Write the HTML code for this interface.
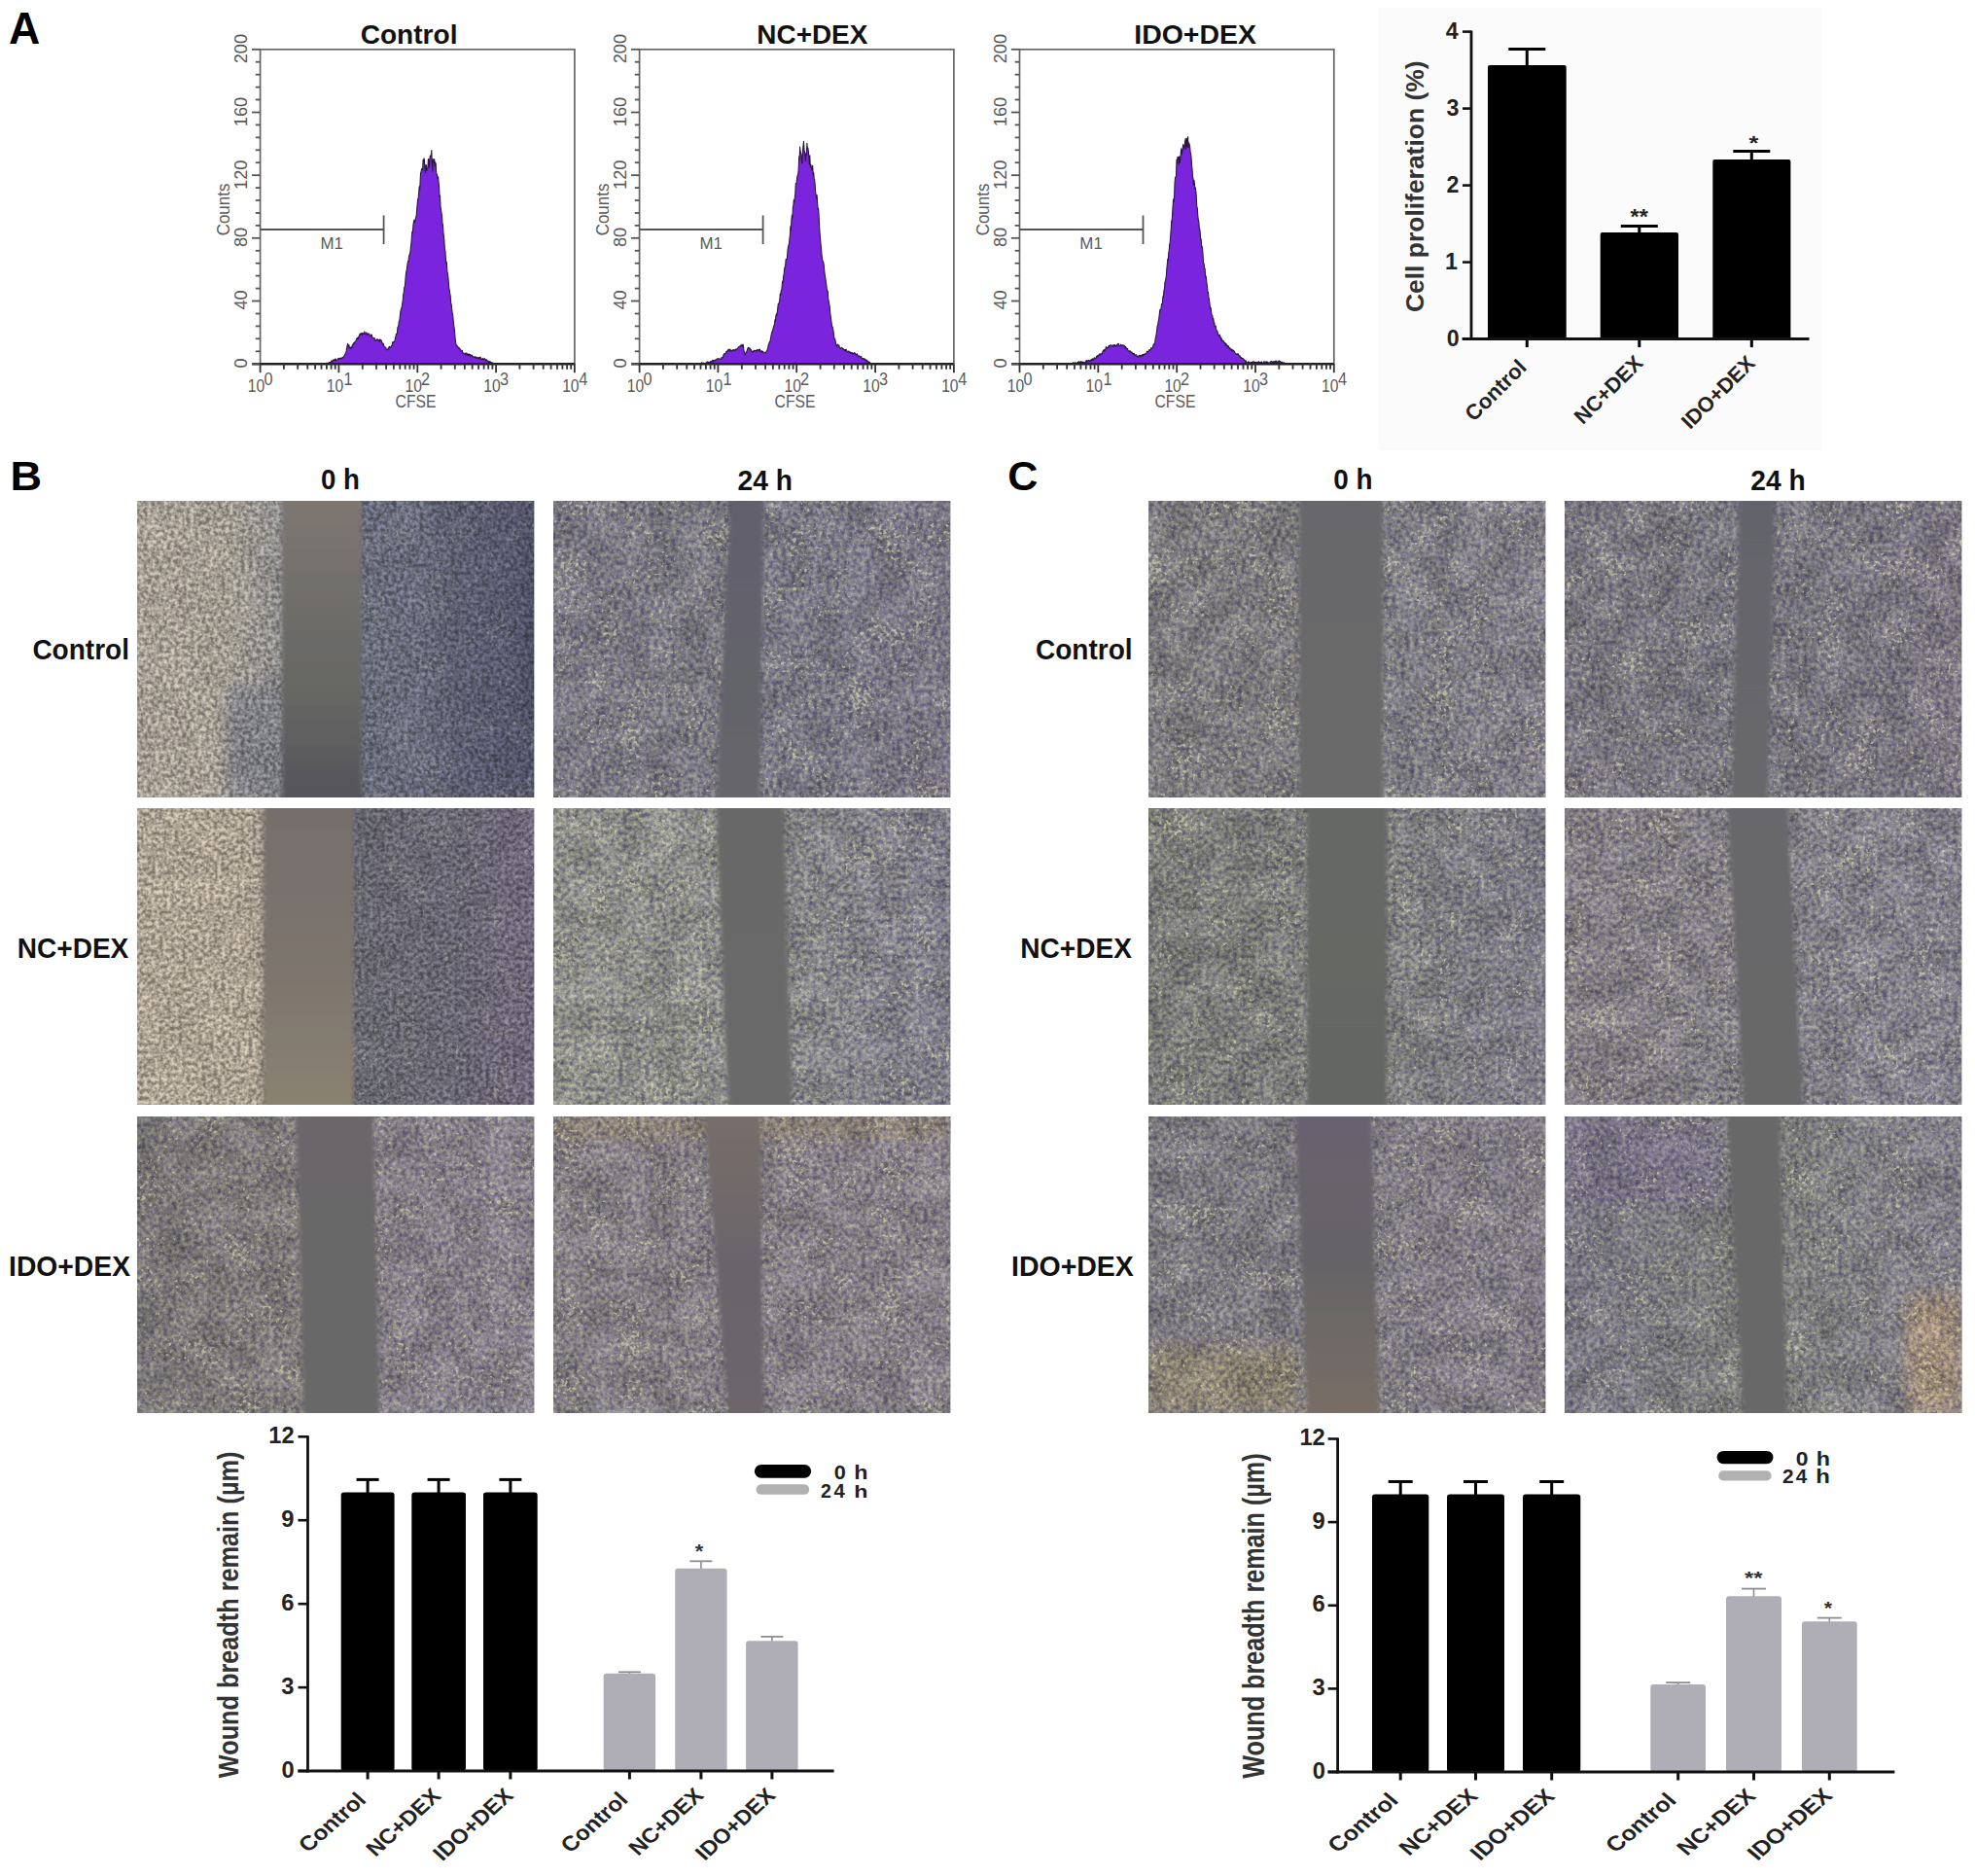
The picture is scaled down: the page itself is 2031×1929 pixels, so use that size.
<!DOCTYPE html><html><head><meta charset="utf-8"><title>Figure</title><style>html,body{margin:0;padding:0;background:#fff}#pg{position:relative;width:2031px;height:1929px;overflow:hidden;background:#fff}svg{position:absolute;left:0;top:0}</style></head><body><div id="pg">
<svg width="2031" height="1929" viewBox="0 0 2031 1929" xmlns="http://www.w3.org/2000/svg">
<defs>
<filter id="soft" x="-5%" y="0" width="110%" height="100%"><feGaussianBlur stdDeviation="2.0 0.3"/></filter>
<filter id="blur8" x="-20%" y="-20%" width="140%" height="140%"><feGaussianBlur stdDeviation="8"/></filter>
<filter id="tex0" x="0" y="0" width="100%" height="100%" color-interpolation-filters="sRGB"><feTurbulence type="fractalNoise" baseFrequency="0.22" numOctaves="3" seed="3" result="f"/><feTurbulence type="fractalNoise" baseFrequency="0.03" numOctaves="2" seed="10" result="c"/><feColorMatrix in="f" type="matrix" values="1.7 -0.25 0 0 -0.225  1.7 -0.25 0 0 -0.225  1.05 0.4 0 0 -0.225  0 0 0 0 1" result="f2"/><feColorMatrix in="c" type="matrix" values="2.4 0 0 0 -0.7  2.4 0 0 0 -0.7  2.4 0 0 0 -0.7  0 0 0 0 1" result="c2"/><feComposite in="f2" in2="c2" operator="arithmetic" k1="0" k2="0.78" k3="0.22" k4="0" result="m"/><feComposite in="SourceGraphic" in2="m" operator="arithmetic" k1="0.76" k2="0.62" k3="0" k4="0"/></filter>
<filter id="mono0" x="0" y="0" width="100%" height="100%" color-interpolation-filters="sRGB"><feTurbulence type="fractalNoise" baseFrequency="0.25" numOctaves="3" seed="3" result="f"/><feTurbulence type="fractalNoise" baseFrequency="0.03" numOctaves="2" seed="10" result="c"/><feColorMatrix in="f" type="matrix" values="2.2 0 0 0 -0.6  2.2 0 0 0 -0.6  2.2 0 0 0 -0.6  0 0 0 0 1" result="f2"/><feColorMatrix in="c" type="matrix" values="2.0 0 0 0 -0.5  2.0 0 0 0 -0.5  2.0 0 0 0 -0.5  0 0 0 0 1" result="c2"/><feComposite in="f2" in2="c2" operator="arithmetic" k1="0" k2="0.85" k3="0.15" k4="0" result="m"/><feComposite in="SourceGraphic" in2="m" operator="arithmetic" k1="0.6" k2="0.7" k3="0" k4="0"/></filter>
<filter id="sp0" x="0" y="0" width="100%" height="100%" color-interpolation-filters="sRGB"><feTurbulence type="fractalNoise" baseFrequency="0.26" numOctaves="2" seed="53" result="f"/><feTurbulence type="fractalNoise" baseFrequency="0.03" numOctaves="1" seed="12" result="c"/><feComposite in="f" in2="c" operator="arithmetic" k1="0" k2="0.65" k3="0.35" k4="0" result="m"/><feColorMatrix in="m" type="matrix" values="0 0 0 0 0.88  0 0 0 0 0.87  0 0 0 0 0.70  9 0 0 0 -5.4"/></filter>
<filter id="tex1" x="0" y="0" width="100%" height="100%" color-interpolation-filters="sRGB"><feTurbulence type="fractalNoise" baseFrequency="0.22" numOctaves="3" seed="11" result="f"/><feTurbulence type="fractalNoise" baseFrequency="0.03" numOctaves="2" seed="18" result="c"/><feColorMatrix in="f" type="matrix" values="1.7 -0.25 0 0 -0.225  1.7 -0.25 0 0 -0.225  1.05 0.4 0 0 -0.225  0 0 0 0 1" result="f2"/><feColorMatrix in="c" type="matrix" values="2.4 0 0 0 -0.7  2.4 0 0 0 -0.7  2.4 0 0 0 -0.7  0 0 0 0 1" result="c2"/><feComposite in="f2" in2="c2" operator="arithmetic" k1="0" k2="0.78" k3="0.22" k4="0" result="m"/><feComposite in="SourceGraphic" in2="m" operator="arithmetic" k1="0.76" k2="0.62" k3="0" k4="0"/></filter>
<filter id="mono1" x="0" y="0" width="100%" height="100%" color-interpolation-filters="sRGB"><feTurbulence type="fractalNoise" baseFrequency="0.25" numOctaves="3" seed="11" result="f"/><feTurbulence type="fractalNoise" baseFrequency="0.03" numOctaves="2" seed="18" result="c"/><feColorMatrix in="f" type="matrix" values="2.2 0 0 0 -0.6  2.2 0 0 0 -0.6  2.2 0 0 0 -0.6  0 0 0 0 1" result="f2"/><feColorMatrix in="c" type="matrix" values="2.0 0 0 0 -0.5  2.0 0 0 0 -0.5  2.0 0 0 0 -0.5  0 0 0 0 1" result="c2"/><feComposite in="f2" in2="c2" operator="arithmetic" k1="0" k2="0.85" k3="0.15" k4="0" result="m"/><feComposite in="SourceGraphic" in2="m" operator="arithmetic" k1="0.6" k2="0.7" k3="0" k4="0"/></filter>
<filter id="sp1" x="0" y="0" width="100%" height="100%" color-interpolation-filters="sRGB"><feTurbulence type="fractalNoise" baseFrequency="0.26" numOctaves="2" seed="61" result="f"/><feTurbulence type="fractalNoise" baseFrequency="0.03" numOctaves="1" seed="20" result="c"/><feComposite in="f" in2="c" operator="arithmetic" k1="0" k2="0.65" k3="0.35" k4="0" result="m"/><feColorMatrix in="m" type="matrix" values="0 0 0 0 0.88  0 0 0 0 0.87  0 0 0 0 0.70  9 0 0 0 -5.4"/></filter>
<filter id="tex2" x="0" y="0" width="100%" height="100%" color-interpolation-filters="sRGB"><feTurbulence type="fractalNoise" baseFrequency="0.22" numOctaves="3" seed="29" result="f"/><feTurbulence type="fractalNoise" baseFrequency="0.03" numOctaves="2" seed="36" result="c"/><feColorMatrix in="f" type="matrix" values="1.7 -0.25 0 0 -0.225  1.7 -0.25 0 0 -0.225  1.05 0.4 0 0 -0.225  0 0 0 0 1" result="f2"/><feColorMatrix in="c" type="matrix" values="2.4 0 0 0 -0.7  2.4 0 0 0 -0.7  2.4 0 0 0 -0.7  0 0 0 0 1" result="c2"/><feComposite in="f2" in2="c2" operator="arithmetic" k1="0" k2="0.78" k3="0.22" k4="0" result="m"/><feComposite in="SourceGraphic" in2="m" operator="arithmetic" k1="0.76" k2="0.62" k3="0" k4="0"/></filter>
<filter id="mono2" x="0" y="0" width="100%" height="100%" color-interpolation-filters="sRGB"><feTurbulence type="fractalNoise" baseFrequency="0.25" numOctaves="3" seed="29" result="f"/><feTurbulence type="fractalNoise" baseFrequency="0.03" numOctaves="2" seed="36" result="c"/><feColorMatrix in="f" type="matrix" values="2.2 0 0 0 -0.6  2.2 0 0 0 -0.6  2.2 0 0 0 -0.6  0 0 0 0 1" result="f2"/><feColorMatrix in="c" type="matrix" values="2.0 0 0 0 -0.5  2.0 0 0 0 -0.5  2.0 0 0 0 -0.5  0 0 0 0 1" result="c2"/><feComposite in="f2" in2="c2" operator="arithmetic" k1="0" k2="0.85" k3="0.15" k4="0" result="m"/><feComposite in="SourceGraphic" in2="m" operator="arithmetic" k1="0.6" k2="0.7" k3="0" k4="0"/></filter>
<filter id="sp2" x="0" y="0" width="100%" height="100%" color-interpolation-filters="sRGB"><feTurbulence type="fractalNoise" baseFrequency="0.26" numOctaves="2" seed="79" result="f"/><feTurbulence type="fractalNoise" baseFrequency="0.03" numOctaves="1" seed="38" result="c"/><feComposite in="f" in2="c" operator="arithmetic" k1="0" k2="0.65" k3="0.35" k4="0" result="m"/><feColorMatrix in="m" type="matrix" values="0 0 0 0 0.88  0 0 0 0 0.87  0 0 0 0 0.70  9 0 0 0 -5.4"/></filter>
<linearGradient id="g00" x1="0" y1="0" x2="1" y2="0"><stop offset="0" stop-color="#a79f95"/><stop offset="0.22" stop-color="#a39c92"/><stop offset="0.3" stop-color="#98948f"/><stop offset="0.36" stop-color="#898889"/><stop offset="0.56" stop-color="#686b79"/><stop offset="0.72" stop-color="#686b7b"/><stop offset="0.8" stop-color="#5c5e70"/><stop offset="0.94" stop-color="#58586e"/><stop offset="1" stop-color="#4e4e64"/></linearGradient>
<linearGradient id="v00" x1="0" y1="0" x2="0" y2="1"><stop offset="0.000" stop-color="#7e7771"/><stop offset="0.333" stop-color="#706e6a"/><stop offset="0.667" stop-color="#666664"/><stop offset="1.000" stop-color="#54545a"/></linearGradient>
<clipPath id="c00"><rect x="141" y="515" width="408.5" height="305"/></clipPath>
<linearGradient id="g10" x1="0" y1="0" x2="1" y2="0"><stop offset="0" stop-color="#7b7883"/><stop offset="0.4" stop-color="#79777f"/><stop offset="0.6" stop-color="#787782"/><stop offset="1" stop-color="#7a7583"/></linearGradient>
<linearGradient id="v10" x1="0" y1="0" x2="0" y2="1"><stop offset="0.000" stop-color="#62606e"/><stop offset="1.000" stop-color="#66666a"/></linearGradient>
<clipPath id="c10"><rect x="569" y="515" width="408.5" height="305"/></clipPath>
<linearGradient id="g20" x1="0" y1="0" x2="1" y2="0"><stop offset="0" stop-color="#7c7a7d"/><stop offset="0.38" stop-color="#7b797c"/><stop offset="0.6" stop-color="#7d7c82"/><stop offset="1" stop-color="#7f7b85"/></linearGradient>
<linearGradient id="v20" x1="0" y1="0" x2="0" y2="1"><stop offset="0.000" stop-color="#68686c"/><stop offset="1.000" stop-color="#6a6a6a"/></linearGradient>
<clipPath id="c20"><rect x="1181" y="515" width="408.5" height="305"/></clipPath>
<linearGradient id="g30" x1="0" y1="0" x2="1" y2="0"><stop offset="0" stop-color="#79757e"/><stop offset="0.5" stop-color="#77757d"/><stop offset="1" stop-color="#7b7681"/></linearGradient>
<linearGradient id="v30" x1="0" y1="0" x2="0" y2="1"><stop offset="0.000" stop-color="#64646c"/><stop offset="1.000" stop-color="#68686a"/></linearGradient>
<clipPath id="c30"><rect x="1609" y="515" width="408.5" height="305"/></clipPath>
<linearGradient id="g01" x1="0" y1="0" x2="1" y2="0"><stop offset="0" stop-color="#aca293"/><stop offset="0.3" stop-color="#aaa091"/><stop offset="0.33" stop-color="#837b72"/><stop offset="0.55" stop-color="#67656e"/><stop offset="0.56" stop-color="#676770"/><stop offset="0.8" stop-color="#696773"/><stop offset="1" stop-color="#6f6679"/></linearGradient>
<linearGradient id="v01" x1="0" y1="0" x2="0" y2="1"><stop offset="0.000" stop-color="#766e6c"/><stop offset="0.500" stop-color="#7c746e"/><stop offset="1.000" stop-color="#8a8270"/></linearGradient>
<clipPath id="c01"><rect x="141" y="831" width="408.5" height="305"/></clipPath>
<linearGradient id="g11" x1="0" y1="0" x2="1" y2="0"><stop offset="0" stop-color="#8c8c88"/><stop offset="0.4" stop-color="#8a8a88"/><stop offset="0.6" stop-color="#858587"/><stop offset="0.85" stop-color="#828088"/><stop offset="1" stop-color="#7c7a86"/></linearGradient>
<linearGradient id="v11" x1="0" y1="0" x2="0" y2="1"><stop offset="0.000" stop-color="#686868"/><stop offset="1.000" stop-color="#6a6a6a"/></linearGradient>
<clipPath id="c11"><rect x="569" y="831" width="408.5" height="305"/></clipPath>
<linearGradient id="g21" x1="0" y1="0" x2="1" y2="0"><stop offset="0" stop-color="#7a7a78"/><stop offset="0.4" stop-color="#7c7c7b"/><stop offset="0.6" stop-color="#7d7d7e"/><stop offset="1" stop-color="#7d7a85"/></linearGradient>
<linearGradient id="v21" x1="0" y1="0" x2="0" y2="1"><stop offset="0.000" stop-color="#666866"/><stop offset="1.000" stop-color="#646663"/></linearGradient>
<clipPath id="c21"><rect x="1181" y="831" width="408.5" height="305"/></clipPath>
<linearGradient id="g31" x1="0" y1="0" x2="1" y2="0"><stop offset="0" stop-color="#827d83"/><stop offset="0.5" stop-color="#817e84"/><stop offset="1" stop-color="#83808b"/></linearGradient>
<linearGradient id="v31" x1="0" y1="0" x2="0" y2="1"><stop offset="0.000" stop-color="#68686c"/><stop offset="1.000" stop-color="#686868"/></linearGradient>
<clipPath id="c31"><rect x="1609" y="831" width="408.5" height="305"/></clipPath>
<linearGradient id="g02" x1="0" y1="0" x2="1" y2="0"><stop offset="0" stop-color="#777475"/><stop offset="0.2" stop-color="#7d7979"/><stop offset="0.4" stop-color="#7f7b7b"/><stop offset="0.6" stop-color="#827d84"/><stop offset="1" stop-color="#847f88"/></linearGradient>
<linearGradient id="v02" x1="0" y1="0" x2="0" y2="1"><stop offset="0.000" stop-color="#6a666a"/><stop offset="1.000" stop-color="#686868"/></linearGradient>
<clipPath id="c02"><rect x="141" y="1148" width="408.5" height="305"/></clipPath>
<linearGradient id="g12" x1="0" y1="0" x2="1" y2="0"><stop offset="0" stop-color="#817d81"/><stop offset="0.5" stop-color="#827d83"/><stop offset="1" stop-color="#847f86"/></linearGradient>
<linearGradient id="v12" x1="0" y1="0" x2="0" y2="1"><stop offset="0.000" stop-color="#786e6a"/><stop offset="0.500" stop-color="#6a646a"/><stop offset="1.000" stop-color="#6c666a"/></linearGradient>
<clipPath id="c12"><rect x="569" y="1148" width="408.5" height="305"/></clipPath>
<linearGradient id="g22" x1="0" y1="0" x2="1" y2="0"><stop offset="0" stop-color="#7c797f"/><stop offset="0.37" stop-color="#7c797f"/><stop offset="0.56" stop-color="#7f7b82"/><stop offset="1" stop-color="#817c85"/></linearGradient>
<linearGradient id="v22" x1="0" y1="0" x2="0" y2="1"><stop offset="0.000" stop-color="#686270"/><stop offset="0.500" stop-color="#666466"/><stop offset="1.000" stop-color="#786e66"/></linearGradient>
<clipPath id="c22"><rect x="1181" y="1148" width="408.5" height="305"/></clipPath>
<linearGradient id="g32" x1="0" y1="0" x2="1" y2="0"><stop offset="0" stop-color="#7b7883"/><stop offset="0.4" stop-color="#7b7b7b"/><stop offset="0.6" stop-color="#7d7d7e"/><stop offset="1" stop-color="#817d87"/></linearGradient>
<linearGradient id="v32" x1="0" y1="0" x2="0" y2="1"><stop offset="0.000" stop-color="#686868"/><stop offset="1.000" stop-color="#686868"/></linearGradient>
<clipPath id="c32"><rect x="1609" y="1148" width="408.5" height="305"/></clipPath>
</defs>
<rect width="2031" height="1929" fill="#fff"/>
<text transform="translate(8.96,45.16) scale(0.9618,1)" font-family="Liberation Sans, Arial, sans-serif" font-weight="bold" font-size="46.47" fill="#000">A</text>
<text transform="translate(10.44,503.90) scale(1.0438,1)" font-family="Liberation Sans, Arial, sans-serif" font-weight="bold" font-size="43.19" fill="#000">B</text>
<text transform="translate(1036.28,503.58) scale(1.0298,1)" font-family="Liberation Sans, Arial, sans-serif" font-weight="bold" font-size="41.83" fill="#000">C</text>
<text transform="translate(370.68,45.03) scale(1.0287,1)" font-family="Liberation Sans, Arial, sans-serif" font-weight="bold" font-size="27.30" fill="#111">Control</text>
<text transform="translate(778.35,45.02) scale(1.0014,1)" font-family="Liberation Sans, Arial, sans-serif" font-weight="bold" font-size="27.89" fill="#111">NC+DEX</text>
<text transform="translate(1166.21,45.02) scale(1.0117,1)" font-family="Liberation Sans, Arial, sans-serif" font-weight="bold" font-size="28.17" fill="#111">IDO+DEX</text>
<text transform="translate(329.99,503.31) scale(0.9574,1)" font-family="Liberation Sans, Arial, sans-serif" font-weight="bold" font-size="28.92" fill="#111">0 h</text>
<text transform="translate(758.55,503.60) scale(0.9626,1)" font-family="Liberation Sans, Arial, sans-serif" font-weight="bold" font-size="29.32" fill="#111">24 h</text>
<text transform="translate(1371.28,503.31) scale(0.9651,1)" font-family="Liberation Sans, Arial, sans-serif" font-weight="bold" font-size="28.92" fill="#111">0 h</text>
<text transform="translate(1800.35,503.60) scale(0.9537,1)" font-family="Liberation Sans, Arial, sans-serif" font-weight="bold" font-size="29.59" fill="#111">24 h</text>
<text transform="translate(33.38,678.31) scale(0.9782,1)" font-family="Liberation Sans, Arial, sans-serif" font-weight="bold" font-size="28.65" fill="#111">Control</text>
<text transform="translate(17.84,984.81) scale(0.9520,1)" font-family="Liberation Sans, Arial, sans-serif" font-weight="bold" font-size="29.44" fill="#111">NC+DEX</text>
<text transform="translate(9.02,1312.00) scale(0.9573,1)" font-family="Liberation Sans, Arial, sans-serif" font-weight="bold" font-size="29.58" fill="#111">IDO+DEX</text>
<text transform="translate(1064.98,678.31) scale(0.9782,1)" font-family="Liberation Sans, Arial, sans-serif" font-weight="bold" font-size="28.65" fill="#111">Control</text>
<text transform="translate(1049.33,984.80) scale(0.9358,1)" font-family="Liberation Sans, Arial, sans-serif" font-weight="bold" font-size="30.00" fill="#111">NC+DEX</text>
<text transform="translate(1040.01,1312.00) scale(0.9635,1)" font-family="Liberation Sans, Arial, sans-serif" font-weight="bold" font-size="29.58" fill="#111">IDO+DEX</text>
<path d="M332.3,374.2 L332.3,374.2 L332.7,374.1 L333.2,374.0 L333.7,373.9 L334.2,373.8 L334.7,374.1 L335.2,374.2 L335.7,373.2 L336.1,374.2 L336.6,373.2 L337.1,373.3 L337.6,373.8 L338.1,372.7 L338.6,373.4 L339.0,372.4 L339.5,373.0 L340.0,372.7 L340.5,371.9 L341.0,370.8 L341.5,372.1 L342.0,371.7 L342.4,370.7 L342.9,369.8 L343.4,370.4 L343.9,370.6 L344.4,369.1 L344.9,371.0 L345.4,369.1 L345.8,370.1 L346.3,370.3 L346.8,370.2 L347.3,369.6 L347.8,368.4 L348.3,369.6 L348.7,368.5 L349.2,368.3 L349.7,368.7 L350.2,368.1 L350.7,369.1 L351.2,368.9 L351.7,368.4 L352.1,367.2 L352.6,367.6 L353.1,367.7 L353.6,366.5 L354.1,365.9 L354.6,365.4 L355.1,363.3 L355.5,362.7 L356.0,361.8 L356.5,358.4 L357.0,356.0 L357.5,353.4 L358.0,354.4 L358.4,356.2 L358.9,354.8 L359.4,357.8 L359.9,357.5 L360.4,357.1 L360.9,358.5 L361.4,356.9 L361.8,357.6 L362.3,355.1 L362.8,354.1 L363.3,354.0 L363.8,352.5 L364.3,353.5 L364.8,351.6 L365.2,351.3 L365.7,350.7 L366.2,350.4 L366.7,348.5 L367.2,347.5 L367.7,348.3 L368.1,347.0 L368.6,348.3 L369.1,345.5 L369.6,345.0 L370.1,343.2 L370.6,343.0 L371.1,344.2 L371.5,343.6 L372.0,342.3 L372.5,344.3 L373.0,342.4 L373.5,343.2 L374.0,343.1 L374.5,343.2 L374.9,340.9 L375.4,343.5 L375.9,343.3 L376.4,343.1 L376.9,341.7 L377.4,344.7 L377.8,343.7 L378.3,343.7 L378.8,342.8 L379.3,343.3 L379.8,343.3 L380.3,345.5 L380.8,345.2 L381.2,345.6 L381.7,344.0 L382.2,344.0 L382.7,346.9 L383.2,347.0 L383.7,347.3 L384.1,347.8 L384.6,347.4 L385.1,347.6 L385.6,349.1 L386.1,350.4 L386.6,349.6 L387.1,350.2 L387.5,349.7 L388.0,348.5 L388.5,349.4 L389.0,350.0 L389.5,349.7 L390.0,349.5 L390.5,351.5 L390.9,348.8 L391.4,349.4 L391.9,349.7 L392.4,350.5 L392.9,352.3 L393.4,352.9 L393.8,354.3 L394.3,353.3 L394.8,355.5 L395.3,356.1 L395.8,356.4 L396.3,357.2 L396.8,357.5 L397.2,359.0 L397.7,359.9 L398.2,359.2 L398.7,359.1 L399.2,358.1 L399.7,358.8 L400.2,356.2 L400.6,356.7 L401.1,357.7 L401.6,357.2 L402.1,356.4 L402.6,355.6 L403.1,355.6 L403.5,352.7 L404.0,351.5 L404.5,352.4 L405.0,351.6 L405.5,351.4 L406.0,349.9 L406.5,347.7 L406.9,346.5 L407.4,343.2 L407.9,344.0 L408.4,342.7 L408.9,336.7 L409.4,335.7 L409.9,334.6 L410.3,330.5 L410.8,330.1 L411.3,325.4 L411.8,320.7 L412.3,318.6 L412.8,316.8 L413.2,316.0 L413.7,312.0 L414.2,309.7 L414.7,303.0 L415.2,300.8 L415.7,295.9 L416.2,295.1 L416.6,292.3 L417.1,285.2 L417.6,280.5 L418.1,277.8 L418.6,274.6 L419.1,271.2 L419.6,268.6 L420.0,269.1 L420.5,263.9 L421.0,261.9 L421.5,261.4 L422.0,258.3 L422.5,253.2 L422.9,250.2 L423.4,243.5 L423.9,238.0 L424.4,239.2 L424.9,231.7 L425.4,228.3 L425.9,226.0 L426.3,228.9 L426.8,227.7 L427.3,225.2 L427.8,223.0 L428.3,220.4 L428.8,213.8 L429.3,208.5 L429.7,204.6 L430.2,204.0 L430.7,197.8 L431.2,191.8 L431.7,195.3 L432.2,184.5 L432.6,177.7 L433.1,176.2 L433.6,173.6 L434.1,174.0 L434.6,174.7 L435.1,164.3 L435.6,167.0 L436.0,162.9 L436.5,164.7 L437.0,175.6 L437.5,177.6 L438.0,169.4 L438.5,170.5 L438.9,175.5 L439.4,174.5 L439.9,173.0 L440.4,163.5 L440.9,164.3 L441.4,172.1 L441.9,163.4 L442.3,160.1 L442.8,160.4 L443.3,160.6 L443.8,154.5 L444.3,168.9 L444.8,176.1 L445.3,163.6 L445.7,166.7 L446.2,167.4 L446.7,163.6 L447.2,170.9 L447.7,166.8 L448.2,168.6 L448.6,177.1 L449.1,178.9 L449.6,180.7 L450.1,183.5 L450.6,181.8 L451.1,187.8 L451.6,192.7 L452.0,202.5 L452.5,201.1 L453.0,212.3 L453.5,215.9 L454.0,219.4 L454.5,221.0 L455.0,230.3 L455.4,230.5 L455.9,238.9 L456.4,243.3 L456.9,248.1 L457.4,256.8 L457.9,258.1 L458.3,264.7 L458.8,270.6 L459.3,269.5 L459.8,278.5 L460.3,281.1 L460.8,284.2 L461.3,289.9 L461.7,295.6 L462.2,298.2 L462.7,301.8 L463.2,304.3 L463.7,311.6 L464.2,313.0 L464.7,318.3 L465.1,321.8 L465.6,323.4 L466.1,329.0 L466.6,333.2 L467.1,337.0 L467.6,341.0 L468.0,347.1 L468.5,351.0 L469.0,354.5 L469.5,355.1 L470.0,355.3 L470.5,356.6 L471.0,357.0 L471.4,357.8 L471.9,357.2 L472.4,358.5 L472.9,358.6 L473.4,358.9 L473.9,361.1 L474.4,360.7 L474.8,360.1 L475.3,360.7 L475.8,362.9 L476.3,363.3 L476.8,362.9 L477.3,364.1 L477.7,363.9 L478.2,364.5 L478.7,363.2 L479.2,363.1 L479.7,363.0 L480.2,365.0 L480.7,363.8 L481.1,364.2 L481.6,365.6 L482.1,364.0 L482.6,364.0 L483.1,366.0 L483.6,364.5 L484.0,366.0 L484.5,366.0 L485.0,365.0 L485.5,365.5 L486.0,367.1 L486.5,366.6 L487.0,366.6 L487.4,367.1 L487.9,367.5 L488.4,367.4 L488.9,366.6 L489.4,368.3 L489.9,367.2 L490.4,367.6 L490.8,368.7 L491.3,368.1 L491.8,367.5 L492.3,367.9 L492.8,369.0 L493.3,367.1 L493.7,367.7 L494.2,367.4 L494.7,369.4 L495.2,369.2 L495.7,369.8 L496.2,368.3 L496.7,369.5 L497.1,370.0 L497.6,369.4 L498.1,368.5 L498.6,369.0 L499.1,370.5 L499.6,370.9 L500.1,369.5 L500.5,370.5 L501.0,370.5 L501.5,372.1 L502.0,372.4 L502.5,371.3 L503.0,372.1 L503.4,373.1 L503.9,371.6 L504.4,372.4 L504.9,372.4 L505.4,374.0 L505.9,372.8 L506.4,374.2 L506.8,373.0 L507.3,373.8 L507.8,373.8 L508.3,373.9 L508.8,374.0 L509.3,374.1 L509.8,374.1 L510.2,374.2 L510.1,374.2Z" fill="#7a25dd" stroke="#2a1a3a" stroke-width="1.1" stroke-linejoin="round"/>
<rect x="267.6" y="50.8" width="323.3" height="323.4" fill="none" stroke="#666" stroke-width="1.7"/>
<line x1="259.1" y1="374.2" x2="590.9" y2="374.2" stroke="#222" stroke-width="2.6"/>
<line x1="259.0" y1="374.2" x2="267.6" y2="374.2" stroke="#555" stroke-width="1.8"/>
<line x1="262.8" y1="361.3" x2="267.6" y2="361.3" stroke="#555" stroke-width="1.8"/>
<line x1="262.8" y1="348.3" x2="267.6" y2="348.3" stroke="#555" stroke-width="1.8"/>
<line x1="262.8" y1="335.4" x2="267.6" y2="335.4" stroke="#555" stroke-width="1.8"/>
<line x1="262.8" y1="322.5" x2="267.6" y2="322.5" stroke="#555" stroke-width="1.8"/>
<line x1="259.0" y1="309.5" x2="267.6" y2="309.5" stroke="#555" stroke-width="1.8"/>
<line x1="262.8" y1="296.6" x2="267.6" y2="296.6" stroke="#555" stroke-width="1.8"/>
<line x1="262.8" y1="283.6" x2="267.6" y2="283.6" stroke="#555" stroke-width="1.8"/>
<line x1="262.8" y1="270.7" x2="267.6" y2="270.7" stroke="#555" stroke-width="1.8"/>
<line x1="262.8" y1="257.8" x2="267.6" y2="257.8" stroke="#555" stroke-width="1.8"/>
<line x1="259.0" y1="244.8" x2="267.6" y2="244.8" stroke="#555" stroke-width="1.8"/>
<line x1="262.8" y1="231.9" x2="267.6" y2="231.9" stroke="#555" stroke-width="1.8"/>
<line x1="262.8" y1="219.0" x2="267.6" y2="219.0" stroke="#555" stroke-width="1.8"/>
<line x1="262.8" y1="206.0" x2="267.6" y2="206.0" stroke="#555" stroke-width="1.8"/>
<line x1="262.8" y1="193.1" x2="267.6" y2="193.1" stroke="#555" stroke-width="1.8"/>
<line x1="259.0" y1="180.2" x2="267.6" y2="180.2" stroke="#555" stroke-width="1.8"/>
<line x1="262.8" y1="167.2" x2="267.6" y2="167.2" stroke="#555" stroke-width="1.8"/>
<line x1="262.8" y1="154.3" x2="267.6" y2="154.3" stroke="#555" stroke-width="1.8"/>
<line x1="262.8" y1="141.4" x2="267.6" y2="141.4" stroke="#555" stroke-width="1.8"/>
<line x1="262.8" y1="128.4" x2="267.6" y2="128.4" stroke="#555" stroke-width="1.8"/>
<line x1="259.0" y1="115.5" x2="267.6" y2="115.5" stroke="#555" stroke-width="1.8"/>
<line x1="262.8" y1="102.5" x2="267.6" y2="102.5" stroke="#555" stroke-width="1.8"/>
<line x1="262.8" y1="89.6" x2="267.6" y2="89.6" stroke="#555" stroke-width="1.8"/>
<line x1="262.8" y1="76.7" x2="267.6" y2="76.7" stroke="#555" stroke-width="1.8"/>
<line x1="262.8" y1="63.7" x2="267.6" y2="63.7" stroke="#555" stroke-width="1.8"/>
<line x1="259.0" y1="50.8" x2="267.6" y2="50.8" stroke="#555" stroke-width="1.8"/>
<text transform="translate(254.42,378.48) scale(1,1.0150) rotate(-90)" font-family="Liberation Sans, Arial, sans-serif" font-weight="normal" font-size="17.89" fill="#5a5a5a">0</text>
<text transform="translate(254.42,318.61) scale(1,1.0150) rotate(-90)" font-family="Liberation Sans, Arial, sans-serif" font-weight="normal" font-size="17.89" fill="#5a5a5a">40</text>
<text transform="translate(254.42,254.12) scale(1,1.0150) rotate(-90)" font-family="Liberation Sans, Arial, sans-serif" font-weight="normal" font-size="17.89" fill="#5a5a5a">80</text>
<text transform="translate(254.42,194.88) scale(1,1.0150) rotate(-90)" font-family="Liberation Sans, Arial, sans-serif" font-weight="normal" font-size="17.89" fill="#5a5a5a">120</text>
<text transform="translate(254.42,130.20) scale(1,1.0150) rotate(-90)" font-family="Liberation Sans, Arial, sans-serif" font-weight="normal" font-size="17.89" fill="#5a5a5a">160</text>
<text transform="translate(254.42,65.25) scale(1,1.0150) rotate(-90)" font-family="Liberation Sans, Arial, sans-serif" font-weight="normal" font-size="17.89" fill="#5a5a5a">200</text>
<text transform="translate(235.92,242.35) scale(1,0.9645) rotate(-90)" font-family="Liberation Sans, Arial, sans-serif" font-weight="normal" font-size="17.61" fill="#5a5a5a">Counts</text>
<line x1="267.6" y1="374.2" x2="267.6" y2="383.2" stroke="#333" stroke-width="1.8"/>
<line x1="291.9" y1="374.2" x2="291.9" y2="379.7" stroke="#333" stroke-width="1.8"/>
<line x1="306.2" y1="374.2" x2="306.2" y2="379.7" stroke="#333" stroke-width="1.8"/>
<line x1="316.3" y1="374.2" x2="316.3" y2="379.7" stroke="#333" stroke-width="1.8"/>
<line x1="324.1" y1="374.2" x2="324.1" y2="379.7" stroke="#333" stroke-width="1.8"/>
<line x1="330.5" y1="374.2" x2="330.5" y2="379.7" stroke="#333" stroke-width="1.8"/>
<line x1="335.9" y1="374.2" x2="335.9" y2="379.7" stroke="#333" stroke-width="1.8"/>
<line x1="340.6" y1="374.2" x2="340.6" y2="379.7" stroke="#333" stroke-width="1.8"/>
<line x1="344.7" y1="374.2" x2="344.7" y2="379.7" stroke="#333" stroke-width="1.8"/>
<line x1="348.4" y1="374.2" x2="348.4" y2="383.2" stroke="#333" stroke-width="1.8"/>
<line x1="372.8" y1="374.2" x2="372.8" y2="379.7" stroke="#333" stroke-width="1.8"/>
<line x1="387.0" y1="374.2" x2="387.0" y2="379.7" stroke="#333" stroke-width="1.8"/>
<line x1="397.1" y1="374.2" x2="397.1" y2="379.7" stroke="#333" stroke-width="1.8"/>
<line x1="404.9" y1="374.2" x2="404.9" y2="379.7" stroke="#333" stroke-width="1.8"/>
<line x1="411.3" y1="374.2" x2="411.3" y2="379.7" stroke="#333" stroke-width="1.8"/>
<line x1="416.7" y1="374.2" x2="416.7" y2="379.7" stroke="#333" stroke-width="1.8"/>
<line x1="421.4" y1="374.2" x2="421.4" y2="379.7" stroke="#333" stroke-width="1.8"/>
<line x1="425.6" y1="374.2" x2="425.6" y2="379.7" stroke="#333" stroke-width="1.8"/>
<line x1="429.3" y1="374.2" x2="429.3" y2="383.2" stroke="#333" stroke-width="1.8"/>
<line x1="453.6" y1="374.2" x2="453.6" y2="379.7" stroke="#333" stroke-width="1.8"/>
<line x1="467.8" y1="374.2" x2="467.8" y2="379.7" stroke="#333" stroke-width="1.8"/>
<line x1="477.9" y1="374.2" x2="477.9" y2="379.7" stroke="#333" stroke-width="1.8"/>
<line x1="485.7" y1="374.2" x2="485.7" y2="379.7" stroke="#333" stroke-width="1.8"/>
<line x1="492.1" y1="374.2" x2="492.1" y2="379.7" stroke="#333" stroke-width="1.8"/>
<line x1="497.6" y1="374.2" x2="497.6" y2="379.7" stroke="#333" stroke-width="1.8"/>
<line x1="502.2" y1="374.2" x2="502.2" y2="379.7" stroke="#333" stroke-width="1.8"/>
<line x1="506.4" y1="374.2" x2="506.4" y2="379.7" stroke="#333" stroke-width="1.8"/>
<line x1="510.1" y1="374.2" x2="510.1" y2="383.2" stroke="#333" stroke-width="1.8"/>
<line x1="534.4" y1="374.2" x2="534.4" y2="379.7" stroke="#333" stroke-width="1.8"/>
<line x1="548.6" y1="374.2" x2="548.6" y2="379.7" stroke="#333" stroke-width="1.8"/>
<line x1="558.7" y1="374.2" x2="558.7" y2="379.7" stroke="#333" stroke-width="1.8"/>
<line x1="566.6" y1="374.2" x2="566.6" y2="379.7" stroke="#333" stroke-width="1.8"/>
<line x1="573.0" y1="374.2" x2="573.0" y2="379.7" stroke="#333" stroke-width="1.8"/>
<line x1="578.4" y1="374.2" x2="578.4" y2="379.7" stroke="#333" stroke-width="1.8"/>
<line x1="583.1" y1="374.2" x2="583.1" y2="379.7" stroke="#333" stroke-width="1.8"/>
<line x1="587.2" y1="374.2" x2="587.2" y2="379.7" stroke="#333" stroke-width="1.8"/>
<line x1="590.9" y1="374.2" x2="590.9" y2="383.2" stroke="#333" stroke-width="1.8"/>
<text transform="translate(254.85,403.12) scale(0.8893,1)" font-family="Liberation Sans, Arial, sans-serif" font-weight="normal" font-size="17.61" fill="#5a5a5a">10</text>
<text transform="translate(271.55,395.82) scale(0.8893,1)" font-family="Liberation Sans, Arial, sans-serif" font-weight="normal" font-size="18.31" fill="#5a5a5a">0</text>
<text transform="translate(335.67,403.12) scale(0.8893,1)" font-family="Liberation Sans, Arial, sans-serif" font-weight="normal" font-size="17.61" fill="#5a5a5a">10</text>
<text transform="translate(353.62,396.00) scale(0.8893,1)" font-family="Liberation Sans, Arial, sans-serif" font-weight="normal" font-size="18.31" fill="#5a5a5a">1</text>
<text transform="translate(416.50,403.12) scale(0.8893,1)" font-family="Liberation Sans, Arial, sans-serif" font-weight="normal" font-size="17.61" fill="#5a5a5a">10</text>
<text transform="translate(433.04,396.00) scale(0.8893,1)" font-family="Liberation Sans, Arial, sans-serif" font-weight="normal" font-size="18.31" fill="#5a5a5a">2</text>
<text transform="translate(497.32,403.12) scale(0.8893,1)" font-family="Liberation Sans, Arial, sans-serif" font-weight="normal" font-size="17.61" fill="#5a5a5a">10</text>
<text transform="translate(514.02,395.82) scale(0.8893,1)" font-family="Liberation Sans, Arial, sans-serif" font-weight="normal" font-size="18.31" fill="#5a5a5a">3</text>
<text transform="translate(578.15,403.12) scale(0.8893,1)" font-family="Liberation Sans, Arial, sans-serif" font-weight="normal" font-size="17.61" fill="#5a5a5a">10</text>
<text transform="translate(595.17,396.18) scale(0.8893,1)" font-family="Liberation Sans, Arial, sans-serif" font-weight="normal" font-size="18.31" fill="#5a5a5a">4</text>
<text transform="translate(406.61,419.12) scale(0.8720,1)" font-family="Liberation Sans, Arial, sans-serif" font-weight="normal" font-size="18.03" fill="#5a5a5a">CFSE</text>
<line x1="267.6" y1="236.0" x2="394.6" y2="236.0" stroke="#555" stroke-width="1.8"/>
<line x1="394.6" y1="221.5" x2="394.6" y2="251.0" stroke="#555" stroke-width="1.8"/>
<text transform="translate(329.45,255.50) scale(0.9969,1)" font-family="Liberation Sans, Arial, sans-serif" font-weight="normal" font-size="16.96" fill="#5a5a5a">M1</text>
<path d="M717.4,374.2 L717.4,374.2 L717.9,374.1 L718.4,374.0 L718.9,373.9 L719.4,373.8 L719.8,373.8 L720.3,373.8 L720.8,373.9 L721.3,373.4 L721.8,372.6 L722.3,373.8 L722.7,374.0 L723.2,373.1 L723.7,373.6 L724.2,373.7 L724.7,373.6 L725.2,373.7 L725.7,373.3 L726.1,373.0 L726.6,372.9 L727.1,371.9 L727.6,372.8 L728.1,372.2 L728.6,372.8 L729.0,372.3 L729.5,372.9 L730.0,372.4 L730.5,372.7 L731.0,371.2 L731.5,371.4 L732.0,372.1 L732.4,371.4 L732.9,370.3 L733.4,372.0 L733.9,370.4 L734.4,371.1 L734.9,370.8 L735.4,369.9 L735.8,370.6 L736.3,370.2 L736.8,369.6 L737.3,368.8 L737.8,369.9 L738.3,368.7 L738.7,368.8 L739.2,368.7 L739.7,369.0 L740.2,369.0 L740.7,369.4 L741.2,369.1 L741.7,369.0 L742.1,367.3 L742.6,368.1 L743.1,367.6 L743.6,367.1 L744.1,364.6 L744.6,363.8 L745.1,363.6 L745.5,363.9 L746.0,363.3 L746.5,362.5 L747.0,361.3 L747.5,361.6 L748.0,360.8 L748.4,361.2 L748.9,359.3 L749.4,359.2 L749.9,360.3 L750.4,361.0 L750.9,359.0 L751.4,360.7 L751.8,360.5 L752.3,361.3 L752.8,360.2 L753.3,359.9 L753.8,359.8 L754.3,360.5 L754.8,359.6 L755.2,360.7 L755.7,359.7 L756.2,359.9 L756.7,358.9 L757.2,359.6 L757.7,359.4 L758.1,358.4 L758.6,358.4 L759.1,357.1 L759.6,357.1 L760.1,356.2 L760.6,356.2 L761.1,355.8 L761.5,355.1 L762.0,356.2 L762.5,356.2 L763.0,354.0 L763.5,356.2 L764.0,354.3 L764.5,355.5 L764.9,360.5 L765.4,361.9 L765.9,365.2 L766.4,364.6 L766.9,363.1 L767.4,361.7 L767.8,362.2 L768.3,360.0 L768.8,358.8 L769.3,357.2 L769.8,357.6 L770.3,357.8 L770.8,358.7 L771.2,358.2 L771.7,359.0 L772.2,359.3 L772.7,360.8 L773.2,361.6 L773.7,361.6 L774.1,361.3 L774.6,362.2 L775.1,360.3 L775.6,360.9 L776.1,360.6 L776.6,360.5 L777.1,360.2 L777.5,360.6 L778.0,361.8 L778.5,359.6 L779.0,359.6 L779.5,360.1 L780.0,359.9 L780.5,359.4 L780.9,360.9 L781.4,359.1 L781.9,360.8 L782.4,361.7 L782.9,361.6 L783.4,360.7 L783.8,362.5 L784.3,361.5 L784.8,361.3 L785.3,362.9 L785.8,363.2 L786.3,362.9 L786.8,362.4 L787.2,362.2 L787.7,362.6 L788.2,361.0 L788.7,360.9 L789.2,359.2 L789.7,357.4 L790.2,354.4 L790.6,354.1 L791.1,351.8 L791.6,352.0 L792.1,350.1 L792.6,347.7 L793.1,344.5 L793.5,342.6 L794.0,340.8 L794.5,340.4 L795.0,337.8 L795.5,336.1 L796.0,334.3 L796.5,333.9 L796.9,328.9 L797.4,330.0 L797.9,324.8 L798.4,322.9 L798.9,324.5 L799.4,319.9 L799.9,315.7 L800.3,312.4 L800.8,312.4 L801.3,310.8 L801.8,308.6 L802.3,302.0 L802.8,303.5 L803.2,298.9 L803.7,298.9 L804.2,294.1 L804.7,289.0 L805.2,290.9 L805.7,283.4 L806.2,282.2 L806.6,276.5 L807.1,274.6 L807.6,274.7 L808.1,266.8 L808.6,266.6 L809.1,266.9 L809.6,264.0 L810.0,257.1 L810.5,254.3 L811.0,252.3 L811.5,250.2 L812.0,244.7 L812.5,241.3 L812.9,232.9 L813.4,236.7 L813.9,226.1 L814.4,221.4 L814.9,224.5 L815.4,212.9 L815.9,211.2 L816.3,205.5 L816.8,208.0 L817.3,203.4 L817.8,199.3 L818.3,188.6 L818.8,188.9 L819.2,187.4 L819.7,182.5 L820.2,180.2 L820.7,178.9 L821.2,174.1 L821.7,160.9 L822.2,163.6 L822.6,151.1 L823.1,155.7 L823.6,157.3 L824.1,159.0 L824.6,167.9 L825.1,167.0 L825.6,154.3 L826.0,149.8 L826.5,145.3 L827.0,154.1 L827.5,156.9 L828.0,163.0 L828.5,165.6 L828.9,157.2 L829.4,159.5 L829.9,147.2 L830.4,153.5 L830.9,152.2 L831.4,156.2 L831.9,163.3 L832.3,168.7 L832.8,159.7 L833.3,171.5 L833.8,169.2 L834.3,172.7 L834.8,175.0 L835.3,171.4 L835.7,170.2 L836.2,180.3 L836.7,177.3 L837.2,183.8 L837.7,184.7 L838.2,190.4 L838.6,196.8 L839.1,200.6 L839.6,204.0 L840.1,200.5 L840.6,208.6 L841.1,215.3 L841.6,214.4 L842.0,219.5 L842.5,230.4 L843.0,239.0 L843.5,244.2 L844.0,250.8 L844.5,254.5 L845.0,262.2 L845.4,265.1 L845.9,268.1 L846.4,269.0 L846.9,270.0 L847.4,274.2 L847.9,279.7 L848.3,282.8 L848.8,285.3 L849.3,289.4 L849.8,292.8 L850.3,297.6 L850.8,299.5 L851.3,299.3 L851.7,307.6 L852.2,309.3 L852.7,312.4 L853.2,315.1 L853.7,321.8 L854.2,325.3 L854.7,329.0 L855.1,332.1 L855.6,335.6 L856.1,335.9 L856.6,338.6 L857.1,340.8 L857.6,346.0 L858.0,348.1 L858.5,348.1 L859.0,349.8 L859.5,353.3 L860.0,354.0 L860.5,356.1 L861.0,355.3 L861.4,354.1 L861.9,354.8 L862.4,355.0 L862.9,355.1 L863.4,357.5 L863.9,358.2 L864.4,358.5 L864.8,357.8 L865.3,357.7 L865.8,357.4 L866.3,358.3 L866.8,358.7 L867.3,358.6 L867.7,359.6 L868.2,359.5 L868.7,361.1 L869.2,359.3 L869.7,361.0 L870.2,359.4 L870.7,360.3 L871.1,361.4 L871.6,362.0 L872.1,361.9 L872.6,361.1 L873.1,361.1 L873.6,362.8 L874.0,363.1 L874.5,362.1 L875.0,362.2 L875.5,362.8 L876.0,363.4 L876.5,362.7 L877.0,364.3 L877.4,363.8 L877.9,363.6 L878.4,362.5 L878.9,363.5 L879.4,363.1 L879.9,364.3 L880.4,365.0 L880.8,365.2 L881.3,363.8 L881.8,364.7 L882.3,365.9 L882.8,366.8 L883.3,366.0 L883.7,365.8 L884.2,366.7 L884.7,367.4 L885.2,366.7 L885.7,366.4 L886.2,368.3 L886.7,369.0 L887.1,368.6 L887.6,368.8 L888.1,368.5 L888.6,369.9 L889.1,368.9 L889.6,369.4 L890.1,370.2 L890.5,371.2 L891.0,369.9 L891.5,371.6 L892.0,370.8 L892.5,372.4 L893.0,372.7 L893.4,371.9 L893.9,373.2 L894.4,372.2 L894.9,373.5 L895.4,373.8 L895.9,374.1 L896.4,374.2 L896.0,374.2Z" fill="#7a25dd" stroke="#2a1a3a" stroke-width="1.1" stroke-linejoin="round"/>
<rect x="657.6" y="50.8" width="323.3" height="323.4" fill="none" stroke="#666" stroke-width="1.7"/>
<line x1="649.1" y1="374.2" x2="980.9" y2="374.2" stroke="#222" stroke-width="2.6"/>
<line x1="649.0" y1="374.2" x2="657.6" y2="374.2" stroke="#555" stroke-width="1.8"/>
<line x1="652.8" y1="361.3" x2="657.6" y2="361.3" stroke="#555" stroke-width="1.8"/>
<line x1="652.8" y1="348.3" x2="657.6" y2="348.3" stroke="#555" stroke-width="1.8"/>
<line x1="652.8" y1="335.4" x2="657.6" y2="335.4" stroke="#555" stroke-width="1.8"/>
<line x1="652.8" y1="322.5" x2="657.6" y2="322.5" stroke="#555" stroke-width="1.8"/>
<line x1="649.0" y1="309.5" x2="657.6" y2="309.5" stroke="#555" stroke-width="1.8"/>
<line x1="652.8" y1="296.6" x2="657.6" y2="296.6" stroke="#555" stroke-width="1.8"/>
<line x1="652.8" y1="283.6" x2="657.6" y2="283.6" stroke="#555" stroke-width="1.8"/>
<line x1="652.8" y1="270.7" x2="657.6" y2="270.7" stroke="#555" stroke-width="1.8"/>
<line x1="652.8" y1="257.8" x2="657.6" y2="257.8" stroke="#555" stroke-width="1.8"/>
<line x1="649.0" y1="244.8" x2="657.6" y2="244.8" stroke="#555" stroke-width="1.8"/>
<line x1="652.8" y1="231.9" x2="657.6" y2="231.9" stroke="#555" stroke-width="1.8"/>
<line x1="652.8" y1="219.0" x2="657.6" y2="219.0" stroke="#555" stroke-width="1.8"/>
<line x1="652.8" y1="206.0" x2="657.6" y2="206.0" stroke="#555" stroke-width="1.8"/>
<line x1="652.8" y1="193.1" x2="657.6" y2="193.1" stroke="#555" stroke-width="1.8"/>
<line x1="649.0" y1="180.2" x2="657.6" y2="180.2" stroke="#555" stroke-width="1.8"/>
<line x1="652.8" y1="167.2" x2="657.6" y2="167.2" stroke="#555" stroke-width="1.8"/>
<line x1="652.8" y1="154.3" x2="657.6" y2="154.3" stroke="#555" stroke-width="1.8"/>
<line x1="652.8" y1="141.4" x2="657.6" y2="141.4" stroke="#555" stroke-width="1.8"/>
<line x1="652.8" y1="128.4" x2="657.6" y2="128.4" stroke="#555" stroke-width="1.8"/>
<line x1="649.0" y1="115.5" x2="657.6" y2="115.5" stroke="#555" stroke-width="1.8"/>
<line x1="652.8" y1="102.5" x2="657.6" y2="102.5" stroke="#555" stroke-width="1.8"/>
<line x1="652.8" y1="89.6" x2="657.6" y2="89.6" stroke="#555" stroke-width="1.8"/>
<line x1="652.8" y1="76.7" x2="657.6" y2="76.7" stroke="#555" stroke-width="1.8"/>
<line x1="652.8" y1="63.7" x2="657.6" y2="63.7" stroke="#555" stroke-width="1.8"/>
<line x1="649.0" y1="50.8" x2="657.6" y2="50.8" stroke="#555" stroke-width="1.8"/>
<text transform="translate(644.42,378.48) scale(1,1.0150) rotate(-90)" font-family="Liberation Sans, Arial, sans-serif" font-weight="normal" font-size="17.89" fill="#5a5a5a">0</text>
<text transform="translate(644.42,318.61) scale(1,1.0150) rotate(-90)" font-family="Liberation Sans, Arial, sans-serif" font-weight="normal" font-size="17.89" fill="#5a5a5a">40</text>
<text transform="translate(644.42,254.12) scale(1,1.0150) rotate(-90)" font-family="Liberation Sans, Arial, sans-serif" font-weight="normal" font-size="17.89" fill="#5a5a5a">80</text>
<text transform="translate(644.42,194.88) scale(1,1.0150) rotate(-90)" font-family="Liberation Sans, Arial, sans-serif" font-weight="normal" font-size="17.89" fill="#5a5a5a">120</text>
<text transform="translate(644.42,130.20) scale(1,1.0150) rotate(-90)" font-family="Liberation Sans, Arial, sans-serif" font-weight="normal" font-size="17.89" fill="#5a5a5a">160</text>
<text transform="translate(644.42,65.25) scale(1,1.0150) rotate(-90)" font-family="Liberation Sans, Arial, sans-serif" font-weight="normal" font-size="17.89" fill="#5a5a5a">200</text>
<text transform="translate(625.92,242.35) scale(1,0.9645) rotate(-90)" font-family="Liberation Sans, Arial, sans-serif" font-weight="normal" font-size="17.61" fill="#5a5a5a">Counts</text>
<line x1="657.6" y1="374.2" x2="657.6" y2="383.2" stroke="#333" stroke-width="1.8"/>
<line x1="681.9" y1="374.2" x2="681.9" y2="379.7" stroke="#333" stroke-width="1.8"/>
<line x1="696.2" y1="374.2" x2="696.2" y2="379.7" stroke="#333" stroke-width="1.8"/>
<line x1="706.3" y1="374.2" x2="706.3" y2="379.7" stroke="#333" stroke-width="1.8"/>
<line x1="714.1" y1="374.2" x2="714.1" y2="379.7" stroke="#333" stroke-width="1.8"/>
<line x1="720.5" y1="374.2" x2="720.5" y2="379.7" stroke="#333" stroke-width="1.8"/>
<line x1="725.9" y1="374.2" x2="725.9" y2="379.7" stroke="#333" stroke-width="1.8"/>
<line x1="730.6" y1="374.2" x2="730.6" y2="379.7" stroke="#333" stroke-width="1.8"/>
<line x1="734.7" y1="374.2" x2="734.7" y2="379.7" stroke="#333" stroke-width="1.8"/>
<line x1="738.4" y1="374.2" x2="738.4" y2="383.2" stroke="#333" stroke-width="1.8"/>
<line x1="762.8" y1="374.2" x2="762.8" y2="379.7" stroke="#333" stroke-width="1.8"/>
<line x1="777.0" y1="374.2" x2="777.0" y2="379.7" stroke="#333" stroke-width="1.8"/>
<line x1="787.1" y1="374.2" x2="787.1" y2="379.7" stroke="#333" stroke-width="1.8"/>
<line x1="794.9" y1="374.2" x2="794.9" y2="379.7" stroke="#333" stroke-width="1.8"/>
<line x1="801.3" y1="374.2" x2="801.3" y2="379.7" stroke="#333" stroke-width="1.8"/>
<line x1="806.7" y1="374.2" x2="806.7" y2="379.7" stroke="#333" stroke-width="1.8"/>
<line x1="811.4" y1="374.2" x2="811.4" y2="379.7" stroke="#333" stroke-width="1.8"/>
<line x1="815.6" y1="374.2" x2="815.6" y2="379.7" stroke="#333" stroke-width="1.8"/>
<line x1="819.2" y1="374.2" x2="819.2" y2="383.2" stroke="#333" stroke-width="1.8"/>
<line x1="843.6" y1="374.2" x2="843.6" y2="379.7" stroke="#333" stroke-width="1.8"/>
<line x1="857.8" y1="374.2" x2="857.8" y2="379.7" stroke="#333" stroke-width="1.8"/>
<line x1="867.9" y1="374.2" x2="867.9" y2="379.7" stroke="#333" stroke-width="1.8"/>
<line x1="875.7" y1="374.2" x2="875.7" y2="379.7" stroke="#333" stroke-width="1.8"/>
<line x1="882.1" y1="374.2" x2="882.1" y2="379.7" stroke="#333" stroke-width="1.8"/>
<line x1="887.6" y1="374.2" x2="887.6" y2="379.7" stroke="#333" stroke-width="1.8"/>
<line x1="892.2" y1="374.2" x2="892.2" y2="379.7" stroke="#333" stroke-width="1.8"/>
<line x1="896.4" y1="374.2" x2="896.4" y2="379.7" stroke="#333" stroke-width="1.8"/>
<line x1="900.1" y1="374.2" x2="900.1" y2="383.2" stroke="#333" stroke-width="1.8"/>
<line x1="924.4" y1="374.2" x2="924.4" y2="379.7" stroke="#333" stroke-width="1.8"/>
<line x1="938.6" y1="374.2" x2="938.6" y2="379.7" stroke="#333" stroke-width="1.8"/>
<line x1="948.7" y1="374.2" x2="948.7" y2="379.7" stroke="#333" stroke-width="1.8"/>
<line x1="956.6" y1="374.2" x2="956.6" y2="379.7" stroke="#333" stroke-width="1.8"/>
<line x1="963.0" y1="374.2" x2="963.0" y2="379.7" stroke="#333" stroke-width="1.8"/>
<line x1="968.4" y1="374.2" x2="968.4" y2="379.7" stroke="#333" stroke-width="1.8"/>
<line x1="973.1" y1="374.2" x2="973.1" y2="379.7" stroke="#333" stroke-width="1.8"/>
<line x1="977.2" y1="374.2" x2="977.2" y2="379.7" stroke="#333" stroke-width="1.8"/>
<line x1="980.9" y1="374.2" x2="980.9" y2="383.2" stroke="#333" stroke-width="1.8"/>
<text transform="translate(644.85,403.12) scale(0.8893,1)" font-family="Liberation Sans, Arial, sans-serif" font-weight="normal" font-size="17.61" fill="#5a5a5a">10</text>
<text transform="translate(661.55,395.82) scale(0.8893,1)" font-family="Liberation Sans, Arial, sans-serif" font-weight="normal" font-size="18.31" fill="#5a5a5a">0</text>
<text transform="translate(725.67,403.12) scale(0.8893,1)" font-family="Liberation Sans, Arial, sans-serif" font-weight="normal" font-size="17.61" fill="#5a5a5a">10</text>
<text transform="translate(743.62,396.00) scale(0.8893,1)" font-family="Liberation Sans, Arial, sans-serif" font-weight="normal" font-size="18.31" fill="#5a5a5a">1</text>
<text transform="translate(806.50,403.12) scale(0.8893,1)" font-family="Liberation Sans, Arial, sans-serif" font-weight="normal" font-size="17.61" fill="#5a5a5a">10</text>
<text transform="translate(823.04,396.00) scale(0.8893,1)" font-family="Liberation Sans, Arial, sans-serif" font-weight="normal" font-size="18.31" fill="#5a5a5a">2</text>
<text transform="translate(887.32,403.12) scale(0.8893,1)" font-family="Liberation Sans, Arial, sans-serif" font-weight="normal" font-size="17.61" fill="#5a5a5a">10</text>
<text transform="translate(904.02,395.82) scale(0.8893,1)" font-family="Liberation Sans, Arial, sans-serif" font-weight="normal" font-size="18.31" fill="#5a5a5a">3</text>
<text transform="translate(968.15,403.12) scale(0.8893,1)" font-family="Liberation Sans, Arial, sans-serif" font-weight="normal" font-size="17.61" fill="#5a5a5a">10</text>
<text transform="translate(985.17,396.18) scale(0.8893,1)" font-family="Liberation Sans, Arial, sans-serif" font-weight="normal" font-size="18.31" fill="#5a5a5a">4</text>
<text transform="translate(796.61,419.12) scale(0.8720,1)" font-family="Liberation Sans, Arial, sans-serif" font-weight="normal" font-size="18.03" fill="#5a5a5a">CFSE</text>
<line x1="657.6" y1="236.0" x2="784.6" y2="236.0" stroke="#555" stroke-width="1.8"/>
<line x1="784.6" y1="221.5" x2="784.6" y2="251.0" stroke="#555" stroke-width="1.8"/>
<text transform="translate(719.45,255.50) scale(0.9969,1)" font-family="Liberation Sans, Arial, sans-serif" font-weight="normal" font-size="16.96" fill="#5a5a5a">M1</text>
<path d="M1097.0,374.2 L1097.0,374.2 L1097.5,374.1 L1098.0,374.1 L1098.4,374.0 L1098.9,374.0 L1099.4,373.9 L1099.9,373.9 L1100.4,373.8 L1100.9,373.8 L1101.4,373.7 L1101.8,374.2 L1102.3,374.2 L1102.8,373.7 L1103.3,373.2 L1103.8,372.6 L1104.3,374.1 L1104.8,373.6 L1105.2,373.9 L1105.7,372.3 L1106.2,373.9 L1106.7,374.1 L1107.2,374.0 L1107.7,373.3 L1108.1,372.2 L1108.6,372.2 L1109.1,372.4 L1109.6,371.8 L1110.1,371.9 L1110.6,373.0 L1111.1,373.2 L1111.5,371.6 L1112.0,372.0 L1112.5,373.3 L1113.0,372.0 L1113.5,372.5 L1114.0,372.4 L1114.5,372.4 L1114.9,372.7 L1115.4,372.9 L1115.9,372.3 L1116.4,372.1 L1116.9,370.7 L1117.4,372.3 L1117.8,370.4 L1118.3,371.9 L1118.8,371.5 L1119.3,370.4 L1119.8,370.2 L1120.3,370.9 L1120.8,371.6 L1121.2,370.6 L1121.7,370.7 L1122.2,369.4 L1122.7,370.9 L1123.2,370.2 L1123.7,368.8 L1124.2,370.4 L1124.6,369.2 L1125.1,368.0 L1125.6,367.8 L1126.1,369.2 L1126.6,368.9 L1127.1,368.5 L1127.5,366.2 L1128.0,367.5 L1128.5,366.0 L1129.0,365.3 L1129.5,366.2 L1130.0,366.0 L1130.5,364.0 L1130.9,364.5 L1131.4,364.9 L1131.9,363.5 L1132.4,364.1 L1132.9,363.8 L1133.4,364.1 L1133.9,361.7 L1134.3,360.6 L1134.8,360.8 L1135.3,359.4 L1135.8,361.2 L1136.3,360.1 L1136.8,358.9 L1137.2,357.0 L1137.7,356.6 L1138.2,357.9 L1138.7,358.1 L1139.2,357.3 L1139.7,356.9 L1140.2,355.4 L1140.6,357.3 L1141.1,355.3 L1141.6,355.2 L1142.1,354.8 L1142.6,354.8 L1143.1,355.2 L1143.6,355.9 L1144.0,355.9 L1144.5,355.7 L1145.0,354.4 L1145.5,356.4 L1146.0,356.0 L1146.5,354.3 L1146.9,355.7 L1147.4,356.1 L1147.9,356.2 L1148.4,354.6 L1148.9,355.3 L1149.4,353.4 L1149.9,353.7 L1150.3,353.4 L1150.8,355.5 L1151.3,356.0 L1151.8,356.0 L1152.3,354.8 L1152.8,354.2 L1153.2,355.0 L1153.7,355.6 L1154.2,355.0 L1154.7,354.7 L1155.2,354.9 L1155.7,355.1 L1156.2,355.2 L1156.6,356.1 L1157.1,358.1 L1157.6,356.4 L1158.1,358.3 L1158.6,358.0 L1159.1,359.0 L1159.6,358.5 L1160.0,360.4 L1160.5,360.7 L1161.0,361.2 L1161.5,361.9 L1162.0,360.5 L1162.5,361.7 L1162.9,362.7 L1163.4,362.9 L1163.9,361.7 L1164.4,363.3 L1164.9,364.3 L1165.4,363.2 L1165.9,363.9 L1166.3,363.4 L1166.8,365.9 L1167.3,365.4 L1167.8,364.7 L1168.3,364.8 L1168.8,364.8 L1169.3,367.0 L1169.7,366.6 L1170.2,367.1 L1170.7,367.1 L1171.2,365.4 L1171.7,366.3 L1172.2,365.3 L1172.6,366.5 L1173.1,365.2 L1173.6,366.0 L1174.1,366.3 L1174.6,364.9 L1175.1,364.3 L1175.6,366.1 L1176.0,364.5 L1176.5,364.1 L1177.0,364.6 L1177.5,363.9 L1178.0,364.0 L1178.5,363.5 L1179.0,362.9 L1179.4,361.7 L1179.9,361.1 L1180.4,361.9 L1180.9,362.0 L1181.4,360.8 L1181.9,359.5 L1182.3,360.4 L1182.8,359.7 L1183.3,359.6 L1183.8,357.6 L1184.3,357.9 L1184.8,358.4 L1185.3,357.5 L1185.7,355.8 L1186.2,354.5 L1186.7,353.4 L1187.2,354.2 L1187.7,352.4 L1188.2,347.9 L1188.7,345.9 L1189.1,343.5 L1189.6,340.5 L1190.1,335.2 L1190.6,334.8 L1191.1,330.9 L1191.6,328.9 L1192.0,325.7 L1192.5,321.0 L1193.0,318.1 L1193.5,318.8 L1194.0,317.4 L1194.5,312.5 L1195.0,312.9 L1195.4,311.7 L1195.9,304.8 L1196.4,305.1 L1196.9,298.9 L1197.4,297.3 L1197.9,290.5 L1198.3,289.1 L1198.8,287.1 L1199.3,284.2 L1199.8,276.7 L1200.3,272.1 L1200.8,266.2 L1201.3,268.2 L1201.7,260.3 L1202.2,257.9 L1202.7,251.6 L1203.2,249.4 L1203.7,243.1 L1204.2,235.8 L1204.7,226.9 L1205.1,229.2 L1205.6,220.4 L1206.1,211.9 L1206.6,204.8 L1207.1,207.4 L1207.6,202.9 L1208.0,188.7 L1208.5,182.9 L1209.0,182.1 L1209.5,180.9 L1210.0,164.1 L1210.5,168.3 L1211.0,161.4 L1211.4,164.4 L1211.9,161.4 L1212.4,169.2 L1212.9,160.9 L1213.4,167.5 L1213.9,162.9 L1214.4,155.0 L1214.8,152.9 L1215.3,158.9 L1215.8,156.1 L1216.3,151.5 L1216.8,148.3 L1217.3,150.0 L1217.7,153.2 L1218.2,151.4 L1218.7,144.9 L1219.2,142.3 L1219.7,153.1 L1220.2,145.5 L1220.7,142.2 L1221.1,151.2 L1221.6,140.5 L1222.1,151.6 L1222.6,146.7 L1223.1,148.8 L1223.6,150.2 L1224.1,156.8 L1224.5,157.7 L1225.0,161.1 L1225.5,169.9 L1226.0,174.0 L1226.5,181.7 L1227.0,183.7 L1227.4,190.3 L1227.9,185.4 L1228.4,188.7 L1228.9,194.3 L1229.4,193.0 L1229.9,197.3 L1230.4,205.2 L1230.8,212.5 L1231.3,213.9 L1231.8,222.0 L1232.3,226.1 L1232.8,227.7 L1233.3,234.8 L1233.8,235.6 L1234.2,239.0 L1234.7,247.0 L1235.2,245.9 L1235.7,254.4 L1236.2,253.2 L1236.7,256.9 L1237.1,263.0 L1237.6,270.3 L1238.1,271.0 L1238.6,275.9 L1239.1,276.1 L1239.6,285.0 L1240.1,283.8 L1240.5,286.4 L1241.0,291.5 L1241.5,294.4 L1242.0,301.4 L1242.5,300.4 L1243.0,306.5 L1243.4,307.5 L1243.9,311.2 L1244.4,317.3 L1244.9,316.2 L1245.4,317.5 L1245.9,323.5 L1246.4,324.1 L1246.8,324.2 L1247.3,328.8 L1247.8,327.6 L1248.3,332.1 L1248.8,331.9 L1249.3,335.9 L1249.8,335.6 L1250.2,335.1 L1250.7,338.9 L1251.2,339.8 L1251.7,340.0 L1252.2,341.8 L1252.7,343.9 L1253.1,344.5 L1253.6,345.7 L1254.1,344.1 L1254.6,346.1 L1255.1,346.1 L1255.6,349.1 L1256.1,347.7 L1256.5,350.5 L1257.0,349.8 L1257.5,350.2 L1258.0,351.7 L1258.5,350.7 L1259.0,352.4 L1259.5,352.9 L1259.9,352.5 L1260.4,355.3 L1260.9,353.2 L1261.4,354.7 L1261.9,355.9 L1262.4,355.2 L1262.8,357.2 L1263.3,355.7 L1263.8,357.3 L1264.3,358.4 L1264.8,357.7 L1265.3,358.9 L1265.8,360.0 L1266.2,358.8 L1266.7,361.0 L1267.2,359.4 L1267.7,361.2 L1268.2,360.6 L1268.7,360.1 L1269.2,361.4 L1269.6,361.6 L1270.1,362.9 L1270.6,364.0 L1271.1,364.3 L1271.6,364.4 L1272.1,363.6 L1272.5,364.4 L1273.0,364.5 L1273.5,364.0 L1274.0,366.2 L1274.5,366.3 L1275.0,365.7 L1275.5,367.5 L1275.9,367.9 L1276.4,367.5 L1276.9,368.4 L1277.4,368.2 L1277.9,369.0 L1278.4,368.7 L1278.9,369.2 L1279.3,370.5 L1279.8,370.1 L1280.3,370.9 L1280.8,372.1 L1281.3,370.9 L1281.8,372.8 L1282.2,373.3 L1282.7,373.4 L1283.2,372.3 L1283.7,371.8 L1284.2,372.0 L1284.7,372.8 L1285.2,373.1 L1285.6,373.6 L1286.1,372.3 L1286.6,372.5 L1287.1,372.9 L1287.6,372.3 L1288.1,372.7 L1288.6,371.7 L1289.0,372.1 L1289.5,373.1 L1290.0,371.8 L1290.5,373.5 L1291.0,372.5 L1291.5,372.8 L1291.9,373.1 L1292.4,373.5 L1292.9,372.0 L1293.4,373.6 L1293.9,372.5 L1294.4,371.7 L1294.9,373.3 L1295.3,373.2 L1295.8,372.4 L1296.3,372.6 L1296.8,372.3 L1297.3,371.9 L1297.8,373.2 L1298.2,373.0 L1298.7,373.0 L1299.2,373.5 L1299.7,371.8 L1300.2,372.0 L1300.7,372.1 L1301.2,373.5 L1301.6,371.8 L1302.1,372.0 L1302.6,372.5 L1303.1,371.9 L1303.6,372.5 L1304.1,372.9 L1304.6,373.2 L1305.0,372.9 L1305.5,373.3 L1306.0,372.6 L1306.5,371.8 L1307.0,371.9 L1307.5,371.5 L1307.9,371.8 L1308.4,372.7 L1308.9,372.0 L1309.4,372.3 L1309.9,371.5 L1310.4,372.0 L1310.9,372.5 L1311.3,371.7 L1311.8,371.0 L1312.3,372.5 L1312.8,371.1 L1313.3,372.9 L1313.8,372.4 L1314.3,372.4 L1314.7,371.3 L1315.2,370.9 L1315.7,371.5 L1316.2,372.5 L1316.7,371.6 L1317.2,372.9 L1317.6,373.3 L1318.1,372.1 L1318.6,372.9 L1319.1,372.9 L1319.6,373.1 L1320.1,372.6 L1320.6,373.7 L1321.0,373.7 L1321.5,373.8 L1322.0,373.9 L1322.5,374.0 L1323.0,374.1 L1323.5,374.2 L1323.3,374.2Z" fill="#7a25dd" stroke="#2a1a3a" stroke-width="1.1" stroke-linejoin="round"/>
<rect x="1048.5" y="50.8" width="323.3" height="323.4" fill="none" stroke="#666" stroke-width="1.7"/>
<line x1="1040.0" y1="374.2" x2="1371.8" y2="374.2" stroke="#222" stroke-width="2.6"/>
<line x1="1039.9" y1="374.2" x2="1048.5" y2="374.2" stroke="#555" stroke-width="1.8"/>
<line x1="1043.7" y1="361.3" x2="1048.5" y2="361.3" stroke="#555" stroke-width="1.8"/>
<line x1="1043.7" y1="348.3" x2="1048.5" y2="348.3" stroke="#555" stroke-width="1.8"/>
<line x1="1043.7" y1="335.4" x2="1048.5" y2="335.4" stroke="#555" stroke-width="1.8"/>
<line x1="1043.7" y1="322.5" x2="1048.5" y2="322.5" stroke="#555" stroke-width="1.8"/>
<line x1="1039.9" y1="309.5" x2="1048.5" y2="309.5" stroke="#555" stroke-width="1.8"/>
<line x1="1043.7" y1="296.6" x2="1048.5" y2="296.6" stroke="#555" stroke-width="1.8"/>
<line x1="1043.7" y1="283.6" x2="1048.5" y2="283.6" stroke="#555" stroke-width="1.8"/>
<line x1="1043.7" y1="270.7" x2="1048.5" y2="270.7" stroke="#555" stroke-width="1.8"/>
<line x1="1043.7" y1="257.8" x2="1048.5" y2="257.8" stroke="#555" stroke-width="1.8"/>
<line x1="1039.9" y1="244.8" x2="1048.5" y2="244.8" stroke="#555" stroke-width="1.8"/>
<line x1="1043.7" y1="231.9" x2="1048.5" y2="231.9" stroke="#555" stroke-width="1.8"/>
<line x1="1043.7" y1="219.0" x2="1048.5" y2="219.0" stroke="#555" stroke-width="1.8"/>
<line x1="1043.7" y1="206.0" x2="1048.5" y2="206.0" stroke="#555" stroke-width="1.8"/>
<line x1="1043.7" y1="193.1" x2="1048.5" y2="193.1" stroke="#555" stroke-width="1.8"/>
<line x1="1039.9" y1="180.2" x2="1048.5" y2="180.2" stroke="#555" stroke-width="1.8"/>
<line x1="1043.7" y1="167.2" x2="1048.5" y2="167.2" stroke="#555" stroke-width="1.8"/>
<line x1="1043.7" y1="154.3" x2="1048.5" y2="154.3" stroke="#555" stroke-width="1.8"/>
<line x1="1043.7" y1="141.4" x2="1048.5" y2="141.4" stroke="#555" stroke-width="1.8"/>
<line x1="1043.7" y1="128.4" x2="1048.5" y2="128.4" stroke="#555" stroke-width="1.8"/>
<line x1="1039.9" y1="115.5" x2="1048.5" y2="115.5" stroke="#555" stroke-width="1.8"/>
<line x1="1043.7" y1="102.5" x2="1048.5" y2="102.5" stroke="#555" stroke-width="1.8"/>
<line x1="1043.7" y1="89.6" x2="1048.5" y2="89.6" stroke="#555" stroke-width="1.8"/>
<line x1="1043.7" y1="76.7" x2="1048.5" y2="76.7" stroke="#555" stroke-width="1.8"/>
<line x1="1043.7" y1="63.7" x2="1048.5" y2="63.7" stroke="#555" stroke-width="1.8"/>
<line x1="1039.9" y1="50.8" x2="1048.5" y2="50.8" stroke="#555" stroke-width="1.8"/>
<text transform="translate(1035.32,378.48) scale(1,1.0150) rotate(-90)" font-family="Liberation Sans, Arial, sans-serif" font-weight="normal" font-size="17.89" fill="#5a5a5a">0</text>
<text transform="translate(1035.32,318.61) scale(1,1.0150) rotate(-90)" font-family="Liberation Sans, Arial, sans-serif" font-weight="normal" font-size="17.89" fill="#5a5a5a">40</text>
<text transform="translate(1035.32,254.12) scale(1,1.0150) rotate(-90)" font-family="Liberation Sans, Arial, sans-serif" font-weight="normal" font-size="17.89" fill="#5a5a5a">80</text>
<text transform="translate(1035.32,194.88) scale(1,1.0150) rotate(-90)" font-family="Liberation Sans, Arial, sans-serif" font-weight="normal" font-size="17.89" fill="#5a5a5a">120</text>
<text transform="translate(1035.32,130.20) scale(1,1.0150) rotate(-90)" font-family="Liberation Sans, Arial, sans-serif" font-weight="normal" font-size="17.89" fill="#5a5a5a">160</text>
<text transform="translate(1035.32,65.25) scale(1,1.0150) rotate(-90)" font-family="Liberation Sans, Arial, sans-serif" font-weight="normal" font-size="17.89" fill="#5a5a5a">200</text>
<text transform="translate(1016.82,242.35) scale(1,0.9645) rotate(-90)" font-family="Liberation Sans, Arial, sans-serif" font-weight="normal" font-size="17.61" fill="#5a5a5a">Counts</text>
<line x1="1048.5" y1="374.2" x2="1048.5" y2="383.2" stroke="#333" stroke-width="1.8"/>
<line x1="1072.8" y1="374.2" x2="1072.8" y2="379.7" stroke="#333" stroke-width="1.8"/>
<line x1="1087.1" y1="374.2" x2="1087.1" y2="379.7" stroke="#333" stroke-width="1.8"/>
<line x1="1097.2" y1="374.2" x2="1097.2" y2="379.7" stroke="#333" stroke-width="1.8"/>
<line x1="1105.0" y1="374.2" x2="1105.0" y2="379.7" stroke="#333" stroke-width="1.8"/>
<line x1="1111.4" y1="374.2" x2="1111.4" y2="379.7" stroke="#333" stroke-width="1.8"/>
<line x1="1116.8" y1="374.2" x2="1116.8" y2="379.7" stroke="#333" stroke-width="1.8"/>
<line x1="1121.5" y1="374.2" x2="1121.5" y2="379.7" stroke="#333" stroke-width="1.8"/>
<line x1="1125.6" y1="374.2" x2="1125.6" y2="379.7" stroke="#333" stroke-width="1.8"/>
<line x1="1129.3" y1="374.2" x2="1129.3" y2="383.2" stroke="#333" stroke-width="1.8"/>
<line x1="1153.7" y1="374.2" x2="1153.7" y2="379.7" stroke="#333" stroke-width="1.8"/>
<line x1="1167.9" y1="374.2" x2="1167.9" y2="379.7" stroke="#333" stroke-width="1.8"/>
<line x1="1178.0" y1="374.2" x2="1178.0" y2="379.7" stroke="#333" stroke-width="1.8"/>
<line x1="1185.8" y1="374.2" x2="1185.8" y2="379.7" stroke="#333" stroke-width="1.8"/>
<line x1="1192.2" y1="374.2" x2="1192.2" y2="379.7" stroke="#333" stroke-width="1.8"/>
<line x1="1197.6" y1="374.2" x2="1197.6" y2="379.7" stroke="#333" stroke-width="1.8"/>
<line x1="1202.3" y1="374.2" x2="1202.3" y2="379.7" stroke="#333" stroke-width="1.8"/>
<line x1="1206.5" y1="374.2" x2="1206.5" y2="379.7" stroke="#333" stroke-width="1.8"/>
<line x1="1210.2" y1="374.2" x2="1210.2" y2="383.2" stroke="#333" stroke-width="1.8"/>
<line x1="1234.5" y1="374.2" x2="1234.5" y2="379.7" stroke="#333" stroke-width="1.8"/>
<line x1="1248.7" y1="374.2" x2="1248.7" y2="379.7" stroke="#333" stroke-width="1.8"/>
<line x1="1258.8" y1="374.2" x2="1258.8" y2="379.7" stroke="#333" stroke-width="1.8"/>
<line x1="1266.6" y1="374.2" x2="1266.6" y2="379.7" stroke="#333" stroke-width="1.8"/>
<line x1="1273.0" y1="374.2" x2="1273.0" y2="379.7" stroke="#333" stroke-width="1.8"/>
<line x1="1278.5" y1="374.2" x2="1278.5" y2="379.7" stroke="#333" stroke-width="1.8"/>
<line x1="1283.1" y1="374.2" x2="1283.1" y2="379.7" stroke="#333" stroke-width="1.8"/>
<line x1="1287.3" y1="374.2" x2="1287.3" y2="379.7" stroke="#333" stroke-width="1.8"/>
<line x1="1291.0" y1="374.2" x2="1291.0" y2="383.2" stroke="#333" stroke-width="1.8"/>
<line x1="1315.3" y1="374.2" x2="1315.3" y2="379.7" stroke="#333" stroke-width="1.8"/>
<line x1="1329.5" y1="374.2" x2="1329.5" y2="379.7" stroke="#333" stroke-width="1.8"/>
<line x1="1339.6" y1="374.2" x2="1339.6" y2="379.7" stroke="#333" stroke-width="1.8"/>
<line x1="1347.5" y1="374.2" x2="1347.5" y2="379.7" stroke="#333" stroke-width="1.8"/>
<line x1="1353.9" y1="374.2" x2="1353.9" y2="379.7" stroke="#333" stroke-width="1.8"/>
<line x1="1359.3" y1="374.2" x2="1359.3" y2="379.7" stroke="#333" stroke-width="1.8"/>
<line x1="1364.0" y1="374.2" x2="1364.0" y2="379.7" stroke="#333" stroke-width="1.8"/>
<line x1="1368.1" y1="374.2" x2="1368.1" y2="379.7" stroke="#333" stroke-width="1.8"/>
<line x1="1371.8" y1="374.2" x2="1371.8" y2="383.2" stroke="#333" stroke-width="1.8"/>
<text transform="translate(1035.75,403.12) scale(0.8893,1)" font-family="Liberation Sans, Arial, sans-serif" font-weight="normal" font-size="17.61" fill="#5a5a5a">10</text>
<text transform="translate(1052.45,395.82) scale(0.8893,1)" font-family="Liberation Sans, Arial, sans-serif" font-weight="normal" font-size="18.31" fill="#5a5a5a">0</text>
<text transform="translate(1116.57,403.12) scale(0.8893,1)" font-family="Liberation Sans, Arial, sans-serif" font-weight="normal" font-size="17.61" fill="#5a5a5a">10</text>
<text transform="translate(1134.52,396.00) scale(0.8893,1)" font-family="Liberation Sans, Arial, sans-serif" font-weight="normal" font-size="18.31" fill="#5a5a5a">1</text>
<text transform="translate(1197.40,403.12) scale(0.8893,1)" font-family="Liberation Sans, Arial, sans-serif" font-weight="normal" font-size="17.61" fill="#5a5a5a">10</text>
<text transform="translate(1213.94,396.00) scale(0.8893,1)" font-family="Liberation Sans, Arial, sans-serif" font-weight="normal" font-size="18.31" fill="#5a5a5a">2</text>
<text transform="translate(1278.22,403.12) scale(0.8893,1)" font-family="Liberation Sans, Arial, sans-serif" font-weight="normal" font-size="17.61" fill="#5a5a5a">10</text>
<text transform="translate(1294.92,395.82) scale(0.8893,1)" font-family="Liberation Sans, Arial, sans-serif" font-weight="normal" font-size="18.31" fill="#5a5a5a">3</text>
<text transform="translate(1359.05,403.12) scale(0.8893,1)" font-family="Liberation Sans, Arial, sans-serif" font-weight="normal" font-size="17.61" fill="#5a5a5a">10</text>
<text transform="translate(1376.07,396.18) scale(0.8893,1)" font-family="Liberation Sans, Arial, sans-serif" font-weight="normal" font-size="18.31" fill="#5a5a5a">4</text>
<text transform="translate(1187.51,419.12) scale(0.8720,1)" font-family="Liberation Sans, Arial, sans-serif" font-weight="normal" font-size="18.03" fill="#5a5a5a">CFSE</text>
<line x1="1048.5" y1="236.0" x2="1175.5" y2="236.0" stroke="#555" stroke-width="1.8"/>
<line x1="1175.5" y1="221.5" x2="1175.5" y2="251.0" stroke="#555" stroke-width="1.8"/>
<text transform="translate(1110.35,255.50) scale(0.9969,1)" font-family="Liberation Sans, Arial, sans-serif" font-weight="normal" font-size="16.96" fill="#5a5a5a">M1</text>
<rect x="1418" y="8" width="455" height="455" fill="#fbfbfb"/>
<line x1="1570.3" y1="50.4" x2="1570.3" y2="68.9" stroke="#000" stroke-width="3"/>
<line x1="1551.3" y1="50.4" x2="1589.3" y2="50.4" stroke="#000" stroke-width="3"/>
<rect x="1530.0" y="66.9" width="80.7" height="281.7" rx="2" fill="#000"/>
<line x1="1570.3" y1="348.6" x2="1570.3" y2="357.1" stroke="#000" stroke-width="3"/>
<line x1="1685.8" y1="232.4" x2="1685.8" y2="241.0" stroke="#000" stroke-width="3"/>
<line x1="1666.8" y1="232.4" x2="1704.8" y2="232.4" stroke="#000" stroke-width="3"/>
<rect x="1645.7" y="239.0" width="80.3" height="109.6" rx="2" fill="#000"/>
<line x1="1685.8" y1="348.6" x2="1685.8" y2="357.1" stroke="#000" stroke-width="3"/>
<line x1="1801.3" y1="155.6" x2="1801.3" y2="166.0" stroke="#000" stroke-width="3"/>
<line x1="1782.3" y1="155.6" x2="1820.3" y2="155.6" stroke="#000" stroke-width="3"/>
<rect x="1761.3" y="164.0" width="80.1" height="184.6" rx="2" fill="#000"/>
<line x1="1801.3" y1="348.6" x2="1801.3" y2="357.1" stroke="#000" stroke-width="3"/>
<text transform="translate(1676.60,229.85) scale(1.0157,1)" font-family="Liberation Sans, Arial, sans-serif" font-weight="bold" font-size="22.97" fill="#222">**</text>
<text transform="translate(1798.60,154.36) scale(1.2198,1)" font-family="Liberation Sans, Arial, sans-serif" font-weight="bold" font-size="20.81" fill="#222">*</text>
<line x1="1513.0" y1="31.5" x2="1513.0" y2="350.1" stroke="#111" stroke-width="2.8"/>
<line x1="1503.6" y1="348.6" x2="1860.5" y2="348.6" stroke="#111" stroke-width="3"/>
<line x1="1504.0" y1="348.6" x2="1513.0" y2="348.6" stroke="#111" stroke-width="2.6"/>
<text transform="translate(1487.75,356.12) scale(1.0000,1)" font-family="Liberation Sans, Arial, sans-serif" font-weight="bold" font-size="23.24" fill="#222">0</text>
<line x1="1504.0" y1="269.6" x2="1513.0" y2="269.6" stroke="#111" stroke-width="2.6"/>
<text transform="translate(1486.08,277.12) scale(1.0000,1)" font-family="Liberation Sans, Arial, sans-serif" font-weight="bold" font-size="23.24" fill="#222">1</text>
<line x1="1504.0" y1="190.6" x2="1513.0" y2="190.6" stroke="#111" stroke-width="2.6"/>
<text transform="translate(1487.52,198.23) scale(1.0000,1)" font-family="Liberation Sans, Arial, sans-serif" font-weight="bold" font-size="23.24" fill="#222">2</text>
<line x1="1504.0" y1="111.6" x2="1513.0" y2="111.6" stroke="#111" stroke-width="2.6"/>
<text transform="translate(1487.52,119.12) scale(1.0000,1)" font-family="Liberation Sans, Arial, sans-serif" font-weight="bold" font-size="23.24" fill="#222">3</text>
<line x1="1504.0" y1="32.6" x2="1513.0" y2="32.6" stroke="#111" stroke-width="2.6"/>
<text transform="translate(1486.82,40.12) scale(1.0000,1)" font-family="Liberation Sans, Arial, sans-serif" font-weight="bold" font-size="23.24" fill="#222">4</text>
<text transform="translate(1463.88,321.06) scale(1,1.0066) rotate(-90)" font-family="Liberation Sans, Arial, sans-serif" font-weight="bold" font-size="26.28" fill="#333">Cell proliferation (%)</text>
<text transform="translate(1515.62,434.20) scale(1,0.9945) rotate(-45)" font-family="Liberation Sans, Arial, sans-serif" font-weight="bold" font-size="22.11" fill="#222">Control</text>
<text transform="translate(1627.78,437.18) scale(1,0.9949) rotate(-45)" font-family="Liberation Sans, Arial, sans-serif" font-weight="bold" font-size="21.78" fill="#222">NC+DEX</text>
<text transform="translate(1738.01,442.28) scale(1,0.9912) rotate(-45)" font-family="Liberation Sans, Arial, sans-serif" font-weight="bold" font-size="21.83" fill="#222">IDO+DEX</text>
<g clip-path="url(#c00)"><g filter="url(#mono0)"><rect x="141" y="515" width="408.5" height="305" fill="url(#g00)"/>
<rect x="230.9" y="704.1" width="65.4" height="122.0" fill="#7a7c84" opacity="0.8" filter="url(#blur8)"/>
</g>
<rect x="141" y="515" width="408.5" height="305" filter="url(#sp0)" opacity="0.25"/>
<polygon points="290.1,515 371.8,515 371.8,820 290.1,820" fill="url(#v00)" filter="url(#soft)"/></g>
<g clip-path="url(#c10)"><g filter="url(#tex0)"><rect x="569" y="515" width="408.5" height="305" fill="url(#g10)"/>
</g>
<rect x="569" y="515" width="408.5" height="305" filter="url(#sp0)" opacity="0.6"/>
<polygon points="750.8,515 785.5,515 781.4,820 736.5,820" fill="url(#v10)" filter="url(#soft)"/></g>
<g clip-path="url(#c20)"><g filter="url(#tex0)"><rect x="1181" y="515" width="408.5" height="305" fill="url(#g20)"/>
</g>
<rect x="1181" y="515" width="408.5" height="305" filter="url(#sp0)" opacity="0.6"/>
<polygon points="1336.2,515 1422.0,515 1422.0,820 1336.2,820" fill="url(#v20)" filter="url(#soft)"/></g>
<g clip-path="url(#c30)"><g filter="url(#tex0)"><rect x="1609" y="515" width="408.5" height="305" fill="url(#g30)"/>
</g>
<rect x="1609" y="515" width="408.5" height="305" filter="url(#sp0)" opacity="0.6"/>
<polygon points="1788.7,515 1825.5,515 1817.3,820 1780.6,820" fill="url(#v30)" filter="url(#soft)"/></g>
<g clip-path="url(#c01)"><g filter="url(#mono1)"><rect x="141" y="831" width="408.5" height="305" fill="url(#g01)"/>
</g>
<rect x="141" y="831" width="408.5" height="305" filter="url(#sp1)" opacity="0.3"/>
<polygon points="271.7,831 363.6,831 363.6,1136 271.7,1136" fill="url(#v01)" filter="url(#soft)"/></g>
<g clip-path="url(#c11)"><g filter="url(#tex1)"><rect x="569" y="831" width="408.5" height="305" fill="url(#g11)"/>
</g>
<rect x="569" y="831" width="408.5" height="305" filter="url(#sp1)" opacity="0.6"/>
<polygon points="736.5,831 805.9,831 814.1,1136 748.7,1136" fill="url(#v11)" filter="url(#soft)"/></g>
<g clip-path="url(#c21)"><g filter="url(#tex1)"><rect x="1181" y="831" width="408.5" height="305" fill="url(#g21)"/>
</g>
<rect x="1181" y="831" width="408.5" height="305" filter="url(#sp1)" opacity="0.6"/>
<polygon points="1344.4,831 1426.1,831 1426.1,1136 1344.4,1136" fill="url(#v21)" filter="url(#soft)"/></g>
<g clip-path="url(#c31)"><g filter="url(#tex1)"><rect x="1609" y="831" width="408.5" height="305" fill="url(#g31)"/>
</g>
<rect x="1609" y="831" width="408.5" height="305" filter="url(#sp1)" opacity="0.6"/>
<polygon points="1776.5,831 1837.8,831 1854.1,1136 1792.8,1136" fill="url(#v31)" filter="url(#soft)"/></g>
<g clip-path="url(#c02)"><g filter="url(#tex2)"><rect x="141" y="1148" width="408.5" height="305" fill="url(#g02)"/>
</g>
<rect x="141" y="1148" width="408.5" height="305" filter="url(#sp2)" opacity="0.6"/>
<polygon points="304.4,1148 384.1,1148 390.2,1453 312.6,1453" fill="url(#v02)" filter="url(#soft)"/></g>
<g clip-path="url(#c12)"><g filter="url(#tex2)"><rect x="569" y="1148" width="408.5" height="305" fill="url(#g12)"/>
<rect x="569.0" y="1148.0" width="408.5" height="21.4" fill="#8e8274" opacity="0.9" filter="url(#blur8)"/>
</g>
<rect x="569" y="1148" width="408.5" height="305" filter="url(#sp2)" opacity="0.6"/>
<polygon points="724.2,1148 781.4,1148 785.5,1453 748.7,1453" fill="url(#v12)" filter="url(#soft)"/></g>
<g clip-path="url(#c22)"><g filter="url(#tex2)"><rect x="1181" y="1148" width="408.5" height="305" fill="url(#g22)"/>
<rect x="1181.0" y="1385.9" width="155.2" height="67.1" fill="#8e8470" opacity="0.8" filter="url(#blur8)"/>
</g>
<rect x="1181" y="1148" width="408.5" height="305" filter="url(#sp2)" opacity="0.6"/>
<polygon points="1332.1,1148 1409.8,1148 1417.9,1453 1344.4,1453" fill="url(#v22)" filter="url(#soft)"/></g>
<g clip-path="url(#c32)"><g filter="url(#tex2)"><rect x="1609" y="1148" width="408.5" height="305" fill="url(#g32)"/>
<rect x="1609.0" y="1148.0" width="163.4" height="91.5" fill="#787086" opacity="0.7" filter="url(#blur8)"/>
<rect x="1960.3" y="1331.0" width="57.2" height="122.0" fill="#a08c78" opacity="0.9" filter="url(#blur8)"/>
</g>
<rect x="1609" y="1148" width="408.5" height="305" filter="url(#sp2)" opacity="0.6"/>
<polygon points="1776.5,1148 1829.6,1148 1837.8,1453 1792.8,1453" fill="url(#v32)" filter="url(#soft)"/></g>
<line x1="378.1" y1="1521.4" x2="378.1" y2="1536.6" stroke="#000" stroke-width="3"/>
<line x1="366.6" y1="1521.4" x2="389.6" y2="1521.4" stroke="#000" stroke-width="3"/>
<rect x="350.7" y="1534.6" width="54.9" height="286.4" rx="3" fill="#000"/>
<line x1="378.1" y1="1821.0" x2="378.1" y2="1829.5" stroke="#111" stroke-width="3"/>
<line x1="451.1" y1="1521.4" x2="451.1" y2="1536.6" stroke="#000" stroke-width="3"/>
<line x1="439.6" y1="1521.4" x2="462.6" y2="1521.4" stroke="#000" stroke-width="3"/>
<rect x="423.3" y="1534.6" width="55.7" height="286.4" rx="3" fill="#000"/>
<line x1="451.1" y1="1821.0" x2="451.1" y2="1829.5" stroke="#111" stroke-width="3"/>
<line x1="524.9" y1="1521.4" x2="524.9" y2="1536.6" stroke="#000" stroke-width="3"/>
<line x1="513.4" y1="1521.4" x2="536.4" y2="1521.4" stroke="#000" stroke-width="3"/>
<rect x="497.0" y="1534.6" width="55.7" height="286.4" rx="3" fill="#000"/>
<line x1="524.9" y1="1821.0" x2="524.9" y2="1829.5" stroke="#111" stroke-width="3"/>
<line x1="647.4" y1="1719.3" x2="647.4" y2="1722.8" stroke="#8e8d96" stroke-width="1.6"/>
<line x1="635.9" y1="1719.3" x2="658.9" y2="1719.3" stroke="#8e8d96" stroke-width="1.8"/>
<rect x="620.7" y="1720.8" width="53.4" height="100.2" rx="3" fill="#afaeb7"/>
<line x1="647.4" y1="1821.0" x2="647.4" y2="1829.5" stroke="#111" stroke-width="3"/>
<line x1="720.9" y1="1605.3" x2="720.9" y2="1614.8" stroke="#8e8d96" stroke-width="1.6"/>
<line x1="709.4" y1="1605.3" x2="732.4" y2="1605.3" stroke="#8e8d96" stroke-width="1.8"/>
<rect x="694.2" y="1612.8" width="53.4" height="208.2" rx="3" fill="#afaeb7"/>
<line x1="720.9" y1="1821.0" x2="720.9" y2="1829.5" stroke="#111" stroke-width="3"/>
<line x1="793.9" y1="1682.9" x2="793.9" y2="1689.2" stroke="#8e8d96" stroke-width="1.6"/>
<line x1="782.4" y1="1682.9" x2="805.4" y2="1682.9" stroke="#8e8d96" stroke-width="1.8"/>
<rect x="767.1" y="1687.2" width="53.5" height="133.8" rx="3" fill="#afaeb7"/>
<line x1="793.9" y1="1821.0" x2="793.9" y2="1829.5" stroke="#111" stroke-width="3"/>
<line x1="316.5" y1="1476.3" x2="316.5" y2="1822.5" stroke="#111" stroke-width="2.8"/>
<line x1="306.5" y1="1821.0" x2="857.6" y2="1821.0" stroke="#111" stroke-width="3"/>
<line x1="306.5" y1="1821.0" x2="316.5" y2="1821.0" stroke="#111" stroke-width="2.6"/>
<text transform="translate(289.51,1827.58) scale(1.0000,1)" font-family="Liberation Sans, Arial, sans-serif" font-weight="bold" font-size="23.71" fill="#222">0</text>
<line x1="306.5" y1="1735.1" x2="316.5" y2="1735.1" stroke="#111" stroke-width="2.6"/>
<text transform="translate(289.27,1741.66) scale(1.0000,1)" font-family="Liberation Sans, Arial, sans-serif" font-weight="bold" font-size="23.71" fill="#222">3</text>
<line x1="306.5" y1="1649.2" x2="316.5" y2="1649.2" stroke="#111" stroke-width="2.6"/>
<text transform="translate(289.27,1655.73) scale(1.0000,1)" font-family="Liberation Sans, Arial, sans-serif" font-weight="bold" font-size="23.71" fill="#222">6</text>
<line x1="306.5" y1="1563.2" x2="316.5" y2="1563.2" stroke="#111" stroke-width="2.6"/>
<text transform="translate(289.27,1569.81) scale(1.0000,1)" font-family="Liberation Sans, Arial, sans-serif" font-weight="bold" font-size="23.71" fill="#222">9</text>
<line x1="306.5" y1="1477.3" x2="316.5" y2="1477.3" stroke="#111" stroke-width="2.6"/>
<text transform="translate(276.23,1484.00) scale(1.0000,1)" font-family="Liberation Sans, Arial, sans-serif" font-weight="bold" font-size="23.71" fill="#222">12</text>
<text transform="translate(244.86,1828.20) scale(1,0.8642) rotate(-90)" font-family="Liberation Sans, Arial, sans-serif" font-weight="bold" font-size="29.26" fill="#333">Wound breadth remain (µm)</text>
<text transform="translate(316.94,1905.70) scale(1,0.8803) rotate(-45)" font-family="Liberation Sans, Arial, sans-serif" font-weight="bold" font-size="24.25" fill="#222">Control</text>
<text transform="translate(386.23,1910.08) scale(1,0.9076) rotate(-45)" font-family="Liberation Sans, Arial, sans-serif" font-weight="bold" font-size="23.70" fill="#222">NC+DEX</text>
<text transform="translate(455.06,1914.47) scale(1,0.9006) rotate(-45)" font-family="Liberation Sans, Arial, sans-serif" font-weight="bold" font-size="23.77" fill="#222">IDO+DEX</text>
<text transform="translate(586.58,1906.14) scale(1,0.8972) rotate(-45)" font-family="Liberation Sans, Arial, sans-serif" font-weight="bold" font-size="24.07" fill="#222">Control</text>
<text transform="translate(656.22,1908.96) scale(1,0.8985) rotate(-45)" font-family="Liberation Sans, Arial, sans-serif" font-weight="bold" font-size="23.67" fill="#222">NC+DEX</text>
<text transform="translate(724.87,1913.96) scale(1,0.9010) rotate(-45)" font-family="Liberation Sans, Arial, sans-serif" font-weight="bold" font-size="23.58" fill="#222">IDO+DEX</text>
<text transform="translate(714.80,1601.81) scale(1.1047,1)" font-family="Liberation Sans, Arial, sans-serif" font-weight="bold" font-size="19.73" fill="#333">*</text>
<rect x="775.9" y="1505.9" width="58.3" height="13.8" rx="6.9" fill="#000"/>
<rect x="777.6" y="1526.3" width="54.6" height="10.5" rx="5.2" fill="#b1b1b1"/>
<text transform="translate(857.63,1521.10) scale(1.0928,1)" font-family="Liberation Sans, Arial, sans-serif" font-weight="bold" font-size="19.86" fill="#222">0</text>
<text transform="translate(878.27,1521.30) scale(1.2080,1)" font-family="Liberation Sans, Arial, sans-serif" font-weight="bold" font-size="19.32" fill="#222">h</text>
<text transform="translate(844.11,1539.80) scale(0.9866,1)" font-family="Liberation Sans, Arial, sans-serif" font-weight="bold" font-size="19.86" fill="#222">2</text>
<text transform="translate(857.49,1539.80) scale(1.0115,1)" font-family="Liberation Sans, Arial, sans-serif" font-weight="bold" font-size="20.14" fill="#222">4</text>
<text transform="translate(878.27,1539.80) scale(1.2254,1)" font-family="Liberation Sans, Arial, sans-serif" font-weight="bold" font-size="19.04" fill="#222">h</text>
<line x1="1440.2" y1="1523.5" x2="1440.2" y2="1538.6" stroke="#000" stroke-width="3"/>
<line x1="1427.7" y1="1523.5" x2="1452.7" y2="1523.5" stroke="#000" stroke-width="3"/>
<rect x="1411.0" y="1536.6" width="58.3" height="285.4" rx="3" fill="#000"/>
<line x1="1440.2" y1="1822.0" x2="1440.2" y2="1830.5" stroke="#111" stroke-width="3"/>
<line x1="1517.5" y1="1523.5" x2="1517.5" y2="1538.6" stroke="#000" stroke-width="3"/>
<line x1="1505.0" y1="1523.5" x2="1530.0" y2="1523.5" stroke="#000" stroke-width="3"/>
<rect x="1488.0" y="1536.6" width="59.0" height="285.4" rx="3" fill="#000"/>
<line x1="1517.5" y1="1822.0" x2="1517.5" y2="1830.5" stroke="#111" stroke-width="3"/>
<line x1="1595.7" y1="1523.5" x2="1595.7" y2="1538.6" stroke="#000" stroke-width="3"/>
<line x1="1583.2" y1="1523.5" x2="1608.2" y2="1523.5" stroke="#000" stroke-width="3"/>
<rect x="1566.0" y="1536.6" width="59.3" height="285.4" rx="3" fill="#000"/>
<line x1="1595.7" y1="1822.0" x2="1595.7" y2="1830.5" stroke="#111" stroke-width="3"/>
<line x1="1725.7" y1="1730.1" x2="1725.7" y2="1734.1" stroke="#8e8d96" stroke-width="1.6"/>
<line x1="1713.2" y1="1730.1" x2="1738.2" y2="1730.1" stroke="#8e8d96" stroke-width="1.8"/>
<rect x="1697.3" y="1732.1" width="56.7" height="89.9" rx="3" fill="#afaeb7"/>
<line x1="1725.7" y1="1822.0" x2="1725.7" y2="1830.5" stroke="#111" stroke-width="3"/>
<line x1="1803.5" y1="1633.6" x2="1803.5" y2="1643.3" stroke="#8e8d96" stroke-width="1.6"/>
<line x1="1791.0" y1="1633.6" x2="1816.0" y2="1633.6" stroke="#8e8d96" stroke-width="1.8"/>
<rect x="1775.0" y="1641.3" width="57.0" height="180.7" rx="3" fill="#afaeb7"/>
<line x1="1803.5" y1="1822.0" x2="1803.5" y2="1830.5" stroke="#111" stroke-width="3"/>
<line x1="1881.3" y1="1663.6" x2="1881.3" y2="1669.3" stroke="#8e8d96" stroke-width="1.6"/>
<line x1="1868.8" y1="1663.6" x2="1893.8" y2="1663.6" stroke="#8e8d96" stroke-width="1.8"/>
<rect x="1853.0" y="1667.3" width="56.7" height="154.7" rx="3" fill="#afaeb7"/>
<line x1="1881.3" y1="1822.0" x2="1881.3" y2="1830.5" stroke="#111" stroke-width="3"/>
<line x1="1375.6" y1="1478.5" x2="1375.6" y2="1823.5" stroke="#111" stroke-width="2.8"/>
<line x1="1365.6" y1="1822.0" x2="1948.4" y2="1822.0" stroke="#111" stroke-width="3"/>
<line x1="1365.6" y1="1822.0" x2="1375.6" y2="1822.0" stroke="#111" stroke-width="2.6"/>
<text transform="translate(1349.71,1828.58) scale(1.0000,1)" font-family="Liberation Sans, Arial, sans-serif" font-weight="bold" font-size="23.71" fill="#222">0</text>
<line x1="1365.6" y1="1736.4" x2="1375.6" y2="1736.4" stroke="#111" stroke-width="2.6"/>
<text transform="translate(1349.47,1742.96) scale(1.0000,1)" font-family="Liberation Sans, Arial, sans-serif" font-weight="bold" font-size="23.71" fill="#222">3</text>
<line x1="1365.6" y1="1650.8" x2="1375.6" y2="1650.8" stroke="#111" stroke-width="2.6"/>
<text transform="translate(1349.47,1657.33) scale(1.0000,1)" font-family="Liberation Sans, Arial, sans-serif" font-weight="bold" font-size="23.71" fill="#222">6</text>
<line x1="1365.6" y1="1565.1" x2="1375.6" y2="1565.1" stroke="#111" stroke-width="2.6"/>
<text transform="translate(1349.47,1571.71) scale(1.0000,1)" font-family="Liberation Sans, Arial, sans-serif" font-weight="bold" font-size="23.71" fill="#222">9</text>
<line x1="1365.6" y1="1479.5" x2="1375.6" y2="1479.5" stroke="#111" stroke-width="2.6"/>
<text transform="translate(1336.43,1486.20) scale(1.0000,1)" font-family="Liberation Sans, Arial, sans-serif" font-weight="bold" font-size="23.71" fill="#222">12</text>
<text transform="translate(1299.59,1828.70) scale(1,0.8251) rotate(-90)" font-family="Liberation Sans, Arial, sans-serif" font-weight="bold" font-size="30.53" fill="#333">Wound breadth remain (µm)</text>
<text transform="translate(1375.71,1906.10) scale(1,0.8431) rotate(-45)" font-family="Liberation Sans, Arial, sans-serif" font-weight="bold" font-size="25.32" fill="#222">Control</text>
<text transform="translate(1448.99,1908.95) scale(1,0.8434) rotate(-45)" font-family="Liberation Sans, Arial, sans-serif" font-weight="bold" font-size="24.97" fill="#222">NC+DEX</text>
<text transform="translate(1521.98,1913.95) scale(1,0.8432) rotate(-45)" font-family="Liberation Sans, Arial, sans-serif" font-weight="bold" font-size="24.96" fill="#222">IDO+DEX</text>
<text transform="translate(1661.51,1906.10) scale(1,0.8431) rotate(-45)" font-family="Liberation Sans, Arial, sans-serif" font-weight="bold" font-size="25.32" fill="#222">Control</text>
<text transform="translate(1734.79,1908.95) scale(1,0.8434) rotate(-45)" font-family="Liberation Sans, Arial, sans-serif" font-weight="bold" font-size="24.97" fill="#222">NC+DEX</text>
<text transform="translate(1807.17,1913.96) scale(1,0.8445) rotate(-45)" font-family="Liberation Sans, Arial, sans-serif" font-weight="bold" font-size="25.15" fill="#222">IDO+DEX</text>
<text transform="translate(1794.00,1629.17) scale(1.2787,1)" font-family="Liberation Sans, Arial, sans-serif" font-weight="bold" font-size="18.65" fill="#333">**</text>
<text transform="translate(1875.80,1660.02) scale(1.2260,1)" font-family="Liberation Sans, Arial, sans-serif" font-weight="bold" font-size="17.57" fill="#333">*</text>
<rect x="1765.6" y="1491.9" width="57.9" height="13.4" rx="6.7" fill="#000"/>
<rect x="1767.2" y="1512.3" width="54.4" height="10.2" rx="5.1" fill="#b1b1b1"/>
<text transform="translate(1846.68,1506.80) scale(1.1252,1)" font-family="Liberation Sans, Arial, sans-serif" font-weight="bold" font-size="20.42" fill="#222">0</text>
<text transform="translate(1867.67,1507.00) scale(1.1747,1)" font-family="Liberation Sans, Arial, sans-serif" font-weight="bold" font-size="19.86" fill="#222">h</text>
<text transform="translate(1833.08,1525.40) scale(1.0334,1)" font-family="Liberation Sans, Arial, sans-serif" font-weight="bold" font-size="20.14" fill="#222">2</text>
<text transform="translate(1846.79,1525.40) scale(1.0064,1)" font-family="Liberation Sans, Arial, sans-serif" font-weight="bold" font-size="20.43" fill="#222">4</text>
<text transform="translate(1867.32,1525.40) scale(1.2404,1)" font-family="Liberation Sans, Arial, sans-serif" font-weight="bold" font-size="19.32" fill="#222">h</text>
</svg></div></body></html>
